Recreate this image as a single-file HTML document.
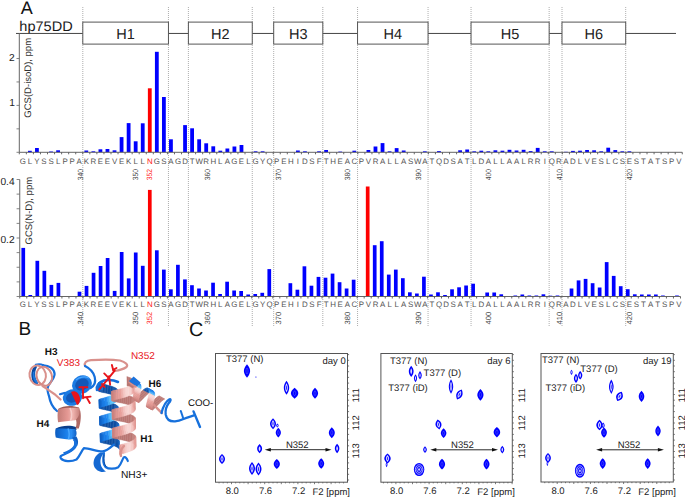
<!DOCTYPE html>
<html><head><meta charset="utf-8"><style>
html,body{margin:0;padding:0;background:#fff;}
svg{display:block;text-rendering:geometricPrecision;font-family:"Liberation Sans",sans-serif;}
</style></head><body>
<svg width="685" height="497" viewBox="0 0 685 497">
<rect width="685" height="497" fill="#fff"/>
<text x="20.7" y="14.1" font-family="Liberation Sans, sans-serif" font-size="18" fill="#111">A</text>
<text x="19.3" y="30.6" font-family="Liberation Sans, sans-serif" font-size="14" fill="#1a1a1a" textLength="53.4" lengthAdjust="spacingAndGlyphs">hp75DD</text>
<path d="M82.80 7V326M168.45 7V326M188.40 7V326M252.25 7V326M273.70 7V326M322.80 7V326M357.55 7V326M428.05 7V326M471.05 7V326M549.15 7V326M562.00 7V326M625.70 7V326" stroke="#999" stroke-width="0.8" stroke-dasharray="1 1" fill="none"/>
<line x1="16" y1="33.45" x2="676" y2="33.45" stroke="#444" stroke-width="1"/>
<rect x="82.80" y="22.1" width="85.65" height="22" fill="#fff" stroke="#555" stroke-width="1"/>
<text x="125.62" y="38.6" font-family="Liberation Sans, sans-serif" font-size="14.5" fill="#222" text-anchor="middle">H1</text>
<rect x="188.40" y="22.1" width="63.85" height="22" fill="#fff" stroke="#555" stroke-width="1"/>
<text x="220.32" y="38.6" font-family="Liberation Sans, sans-serif" font-size="14.5" fill="#222" text-anchor="middle">H2</text>
<rect x="273.70" y="22.1" width="49.10" height="22" fill="#fff" stroke="#555" stroke-width="1"/>
<text x="298.25" y="38.6" font-family="Liberation Sans, sans-serif" font-size="14.5" fill="#222" text-anchor="middle">H3</text>
<rect x="357.55" y="22.1" width="70.50" height="22" fill="#fff" stroke="#555" stroke-width="1"/>
<text x="392.80" y="38.6" font-family="Liberation Sans, sans-serif" font-size="14.5" fill="#222" text-anchor="middle">H4</text>
<rect x="471.05" y="22.1" width="78.10" height="22" fill="#fff" stroke="#555" stroke-width="1"/>
<text x="510.10" y="38.6" font-family="Liberation Sans, sans-serif" font-size="14.5" fill="#222" text-anchor="middle">H5</text>
<rect x="562.00" y="22.1" width="63.70" height="22" fill="#fff" stroke="#555" stroke-width="1"/>
<text x="593.85" y="38.6" font-family="Liberation Sans, sans-serif" font-size="14.5" fill="#222" text-anchor="middle">H6</text>
<rect x="27.98" y="150.80" width="3.8" height="1.50" fill="#0000ff"/>
<rect x="35.03" y="148.00" width="3.8" height="4.30" fill="#0000ff"/>
<rect x="49.14" y="151.50" width="3.8" height="0.80" fill="#0000ff"/>
<rect x="56.19" y="150.30" width="3.8" height="2.00" fill="#0000ff"/>
<rect x="84.40" y="150.50" width="3.8" height="1.80" fill="#0000ff"/>
<rect x="91.46" y="151.30" width="3.8" height="1.00" fill="#0000ff"/>
<rect x="98.51" y="149.30" width="3.8" height="3.00" fill="#0000ff"/>
<rect x="105.56" y="149.00" width="3.8" height="3.30" fill="#0000ff"/>
<rect x="112.62" y="150.30" width="3.8" height="2.00" fill="#0000ff"/>
<rect x="119.67" y="137.10" width="3.8" height="15.20" fill="#0000ff"/>
<rect x="126.72" y="123.10" width="3.8" height="29.20" fill="#0000ff"/>
<rect x="133.77" y="141.30" width="3.8" height="11.00" fill="#0000ff"/>
<rect x="140.83" y="123.30" width="3.8" height="29.00" fill="#0000ff"/>
<rect x="147.88" y="88.30" width="3.8" height="64.00" fill="#ff0000"/>
<rect x="154.93" y="51.80" width="3.8" height="100.50" fill="#0000ff"/>
<rect x="161.99" y="97.00" width="3.8" height="55.30" fill="#0000ff"/>
<rect x="169.04" y="139.30" width="3.8" height="13.00" fill="#0000ff"/>
<rect x="183.15" y="125.10" width="3.8" height="27.20" fill="#0000ff"/>
<rect x="190.20" y="128.30" width="3.8" height="24.00" fill="#0000ff"/>
<rect x="197.25" y="139.30" width="3.8" height="13.00" fill="#0000ff"/>
<rect x="204.30" y="143.30" width="3.8" height="9.00" fill="#0000ff"/>
<rect x="211.36" y="146.30" width="3.8" height="6.00" fill="#0000ff"/>
<rect x="218.41" y="150.70" width="3.8" height="1.60" fill="#0000ff"/>
<rect x="225.46" y="148.50" width="3.8" height="3.80" fill="#0000ff"/>
<rect x="232.52" y="146.50" width="3.8" height="5.80" fill="#0000ff"/>
<rect x="239.57" y="145.00" width="3.8" height="7.30" fill="#0000ff"/>
<rect x="253.68" y="151.30" width="3.8" height="1.00" fill="#0000ff"/>
<rect x="260.73" y="151.30" width="3.8" height="1.00" fill="#0000ff"/>
<rect x="295.99" y="150.50" width="3.8" height="1.80" fill="#0000ff"/>
<rect x="303.05" y="151.30" width="3.8" height="1.00" fill="#0000ff"/>
<rect x="317.15" y="151.30" width="3.8" height="1.00" fill="#0000ff"/>
<rect x="324.21" y="150.00" width="3.8" height="2.30" fill="#0000ff"/>
<rect x="338.31" y="151.60" width="3.8" height="0.70" fill="#0000ff"/>
<rect x="352.42" y="150.70" width="3.8" height="1.60" fill="#0000ff"/>
<rect x="366.52" y="150.00" width="3.8" height="2.30" fill="#0000ff"/>
<rect x="373.58" y="146.50" width="3.8" height="5.80" fill="#0000ff"/>
<rect x="380.63" y="143.10" width="3.8" height="9.20" fill="#0000ff"/>
<rect x="387.68" y="151.30" width="3.8" height="1.00" fill="#0000ff"/>
<rect x="394.74" y="148.10" width="3.8" height="4.20" fill="#0000ff"/>
<rect x="401.79" y="150.50" width="3.8" height="1.80" fill="#0000ff"/>
<rect x="422.95" y="151.30" width="3.8" height="1.00" fill="#0000ff"/>
<rect x="437.05" y="151.10" width="3.8" height="1.20" fill="#0000ff"/>
<rect x="458.21" y="150.30" width="3.8" height="2.00" fill="#0000ff"/>
<rect x="465.27" y="149.50" width="3.8" height="2.80" fill="#0000ff"/>
<rect x="472.32" y="151.30" width="3.8" height="1.00" fill="#0000ff"/>
<rect x="479.37" y="150.70" width="3.8" height="1.60" fill="#0000ff"/>
<rect x="486.42" y="151.30" width="3.8" height="1.00" fill="#0000ff"/>
<rect x="493.48" y="150.30" width="3.8" height="2.00" fill="#0000ff"/>
<rect x="500.53" y="150.70" width="3.8" height="1.60" fill="#0000ff"/>
<rect x="507.58" y="149.80" width="3.8" height="2.50" fill="#0000ff"/>
<rect x="514.64" y="150.50" width="3.8" height="1.80" fill="#0000ff"/>
<rect x="521.69" y="149.80" width="3.8" height="2.50" fill="#0000ff"/>
<rect x="528.74" y="151.10" width="3.8" height="1.20" fill="#0000ff"/>
<rect x="535.80" y="147.90" width="3.8" height="4.40" fill="#0000ff"/>
<rect x="542.85" y="151.30" width="3.8" height="1.00" fill="#0000ff"/>
<rect x="549.90" y="151.30" width="3.8" height="1.00" fill="#0000ff"/>
<rect x="564.01" y="151.80" width="3.8" height="0.50" fill="#0000ff"/>
<rect x="571.06" y="150.90" width="3.8" height="1.40" fill="#0000ff"/>
<rect x="578.11" y="150.70" width="3.8" height="1.60" fill="#0000ff"/>
<rect x="585.17" y="150.00" width="3.8" height="2.30" fill="#0000ff"/>
<rect x="592.22" y="150.30" width="3.8" height="2.00" fill="#0000ff"/>
<rect x="599.27" y="151.30" width="3.8" height="1.00" fill="#0000ff"/>
<rect x="606.33" y="147.70" width="3.8" height="4.60" fill="#0000ff"/>
<rect x="613.38" y="150.10" width="3.8" height="2.20" fill="#0000ff"/>
<rect x="620.43" y="151.30" width="3.8" height="1.00" fill="#0000ff"/>
<rect x="627.48" y="151.30" width="3.8" height="1.00" fill="#0000ff"/>
<line x1="19.3" y1="152.3" x2="682.28" y2="152.3" stroke="#666" stroke-width="1"/>
<path d="M19.30 152.3v2M26.35 152.3v2M33.41 152.3v2M40.46 152.3v2M47.51 152.3v2M54.56 152.3v2M61.62 152.3v2M68.67 152.3v2M75.72 152.3v2M82.78 152.3v2M89.83 152.3v2M96.88 152.3v2M103.94 152.3v2M110.99 152.3v2M118.04 152.3v2M125.09 152.3v2M132.15 152.3v2M139.20 152.3v2M146.25 152.3v2M153.31 152.3v2M160.36 152.3v2M167.41 152.3v2M174.47 152.3v2M181.52 152.3v2M188.57 152.3v2M195.62 152.3v2M202.68 152.3v2M209.73 152.3v2M216.78 152.3v2M223.84 152.3v2M230.89 152.3v2M237.94 152.3v2M245.00 152.3v2M252.05 152.3v2M259.10 152.3v2M266.15 152.3v2M273.21 152.3v2M280.26 152.3v2M287.31 152.3v2M294.37 152.3v2M301.42 152.3v2M308.47 152.3v2M315.53 152.3v2M322.58 152.3v2M329.63 152.3v2M336.69 152.3v2M343.74 152.3v2M350.79 152.3v2M357.84 152.3v2M364.90 152.3v2M371.95 152.3v2M379.00 152.3v2M386.06 152.3v2M393.11 152.3v2M400.16 152.3v2M407.22 152.3v2M414.27 152.3v2M421.32 152.3v2M428.37 152.3v2M435.43 152.3v2M442.48 152.3v2M449.53 152.3v2M456.59 152.3v2M463.64 152.3v2M470.69 152.3v2M477.75 152.3v2M484.80 152.3v2M491.85 152.3v2M498.90 152.3v2M505.96 152.3v2M513.01 152.3v2M520.06 152.3v2M527.12 152.3v2M534.17 152.3v2M541.22 152.3v2M548.27 152.3v2M555.33 152.3v2M562.38 152.3v2M569.43 152.3v2M576.49 152.3v2M583.54 152.3v2M590.59 152.3v2M597.65 152.3v2M604.70 152.3v2M611.75 152.3v2M618.80 152.3v2M625.86 152.3v2M632.91 152.3v2M639.96 152.3v2M647.02 152.3v2M654.07 152.3v2M661.12 152.3v2M668.18 152.3v2M675.23 152.3v2M682.28 152.3v2" stroke="#555" stroke-width="0.9" fill="none"/>
<line x1="19.3" y1="33.3" x2="19.3" y2="152.3" stroke="#666" stroke-width="1"/>
<path d="M16.5 152.30H19.3M16.5 128.85H19.3M16.5 105.40H19.3M16.5 81.95H19.3M16.5 58.50H19.3" stroke="#666" stroke-width="0.8"/>
<g font-family="Liberation Sans, sans-serif" font-size="10.2" fill="#222" text-anchor="end"><text x="14.7" y="60.6">2</text><text x="14.8" y="106.4">1</text></g>
<text transform="translate(30.6,77.8) rotate(-90)" font-family="Liberation Sans, sans-serif" font-size="9.5" fill="#333" text-anchor="middle">GCS(D-isoD), ppm</text>
<g font-family="Liberation Sans, sans-serif" font-size="7.9" fill="#555" text-anchor="middle">
<text x="22.83" y="164.0">G</text>
<text x="29.88" y="164.0">L</text>
<text x="36.93" y="164.0">Y</text>
<text x="43.99" y="164.0">S</text>
<text x="51.04" y="164.0">S</text>
<text x="58.09" y="164.0">L</text>
<text x="65.14" y="164.0">P</text>
<text x="72.20" y="164.0">P</text>
<text x="79.25" y="164.0">A</text>
<text x="86.30" y="164.0">K</text>
<text x="93.36" y="164.0">R</text>
<text x="100.41" y="164.0">E</text>
<text x="107.46" y="164.0">E</text>
<text x="114.52" y="164.0">V</text>
<text x="121.57" y="164.0">E</text>
<text x="128.62" y="164.0">K</text>
<text x="135.67" y="164.0">L</text>
<text x="142.73" y="164.0">L</text>
<text x="149.78" y="164.0" fill="#ff2020">N</text>
<text x="156.83" y="164.0">G</text>
<text x="163.89" y="164.0">S</text>
<text x="170.94" y="164.0">A</text>
<text x="177.99" y="164.0">G</text>
<text x="185.05" y="164.0">D</text>
<text x="192.10" y="164.0">T</text>
<text x="199.15" y="164.0">W</text>
<text x="206.20" y="164.0">R</text>
<text x="213.26" y="164.0">H</text>
<text x="220.31" y="164.0">L</text>
<text x="227.36" y="164.0">A</text>
<text x="234.42" y="164.0">G</text>
<text x="241.47" y="164.0">E</text>
<text x="248.52" y="164.0">L</text>
<text x="255.58" y="164.0">G</text>
<text x="262.63" y="164.0">Y</text>
<text x="269.68" y="164.0">Q</text>
<text x="276.73" y="164.0">P</text>
<text x="283.79" y="164.0">E</text>
<text x="290.84" y="164.0">H</text>
<text x="297.89" y="164.0">I</text>
<text x="304.95" y="164.0">D</text>
<text x="312.00" y="164.0">S</text>
<text x="319.05" y="164.0">F</text>
<text x="326.11" y="164.0">T</text>
<text x="333.16" y="164.0">H</text>
<text x="340.21" y="164.0">E</text>
<text x="347.26" y="164.0">A</text>
<text x="354.32" y="164.0">C</text>
<text x="361.37" y="164.0">P</text>
<text x="368.42" y="164.0">V</text>
<text x="375.48" y="164.0">R</text>
<text x="382.53" y="164.0">A</text>
<text x="389.58" y="164.0">L</text>
<text x="396.64" y="164.0">L</text>
<text x="403.69" y="164.0">A</text>
<text x="410.74" y="164.0">S</text>
<text x="417.79" y="164.0">W</text>
<text x="424.85" y="164.0">A</text>
<text x="431.90" y="164.0">T</text>
<text x="438.95" y="164.0">Q</text>
<text x="446.01" y="164.0">D</text>
<text x="453.06" y="164.0">S</text>
<text x="460.11" y="164.0">A</text>
<text x="467.17" y="164.0">T</text>
<text x="474.22" y="164.0">L</text>
<text x="481.27" y="164.0">D</text>
<text x="488.32" y="164.0">A</text>
<text x="495.38" y="164.0">L</text>
<text x="502.43" y="164.0">L</text>
<text x="509.48" y="164.0">A</text>
<text x="516.54" y="164.0">A</text>
<text x="523.59" y="164.0">L</text>
<text x="530.64" y="164.0">R</text>
<text x="537.70" y="164.0">R</text>
<text x="544.75" y="164.0">I</text>
<text x="551.80" y="164.0">Q</text>
<text x="558.85" y="164.0">R</text>
<text x="565.91" y="164.0">A</text>
<text x="572.96" y="164.0">D</text>
<text x="580.01" y="164.0">L</text>
<text x="587.07" y="164.0">V</text>
<text x="594.12" y="164.0">E</text>
<text x="601.17" y="164.0">S</text>
<text x="608.23" y="164.0">L</text>
<text x="615.28" y="164.0">C</text>
<text x="622.33" y="164.0">S</text>
<text x="629.38" y="164.0">E</text>
<text x="636.44" y="164.0">S</text>
<text x="643.49" y="164.0">T</text>
<text x="650.54" y="164.0">A</text>
<text x="657.60" y="164.0">T</text>
<text x="664.65" y="164.0">S</text>
<text x="671.70" y="164.0">P</text>
<text x="678.76" y="164.0">V</text>
</g>
<g font-family="Liberation Sans, sans-serif" font-size="7.5" fill="#444" text-anchor="middle">
<text transform="translate(82.60,174.7) rotate(-90)" x="-5.60" y="0" text-anchor="start" textLength="11.2" lengthAdjust="spacingAndGlyphs">340</text>
<text transform="translate(138.30,174.7) rotate(-90)" x="-5.60" y="0" text-anchor="start" textLength="11.2" lengthAdjust="spacingAndGlyphs">350</text>
<text transform="translate(152.30,174.7) rotate(-90)" x="-5.60" y="0" text-anchor="start" textLength="11.2" lengthAdjust="spacingAndGlyphs" fill="#ff2020">352</text>
<text transform="translate(209.70,174.7) rotate(-90)" x="-5.60" y="0" text-anchor="start" textLength="11.2" lengthAdjust="spacingAndGlyphs">360</text>
<text transform="translate(281.20,174.7) rotate(-90)" x="-5.60" y="0" text-anchor="start" textLength="11.2" lengthAdjust="spacingAndGlyphs">370</text>
<text transform="translate(349.90,174.7) rotate(-90)" x="-5.60" y="0" text-anchor="start" textLength="11.2" lengthAdjust="spacingAndGlyphs">380</text>
<text transform="translate(420.60,174.7) rotate(-90)" x="-5.60" y="0" text-anchor="start" textLength="11.2" lengthAdjust="spacingAndGlyphs">390</text>
<text transform="translate(491.00,174.7) rotate(-90)" x="-5.60" y="0" text-anchor="start" textLength="11.2" lengthAdjust="spacingAndGlyphs">400</text>
<text transform="translate(561.60,174.7) rotate(-90)" x="-5.60" y="0" text-anchor="start" textLength="11.2" lengthAdjust="spacingAndGlyphs">410</text>
<text transform="translate(631.60,174.7) rotate(-90)" x="-5.60" y="0" text-anchor="start" textLength="11.2" lengthAdjust="spacingAndGlyphs">420</text>
</g>
<rect x="21.41" y="247.90" width="3.7" height="48.60" fill="#0000ff"/>
<rect x="28.44" y="295.00" width="3.7" height="1.50" fill="#0000ff"/>
<rect x="35.47" y="260.80" width="3.7" height="35.70" fill="#0000ff"/>
<rect x="42.50" y="270.80" width="3.7" height="25.70" fill="#0000ff"/>
<rect x="49.53" y="284.90" width="3.7" height="11.60" fill="#0000ff"/>
<rect x="56.56" y="282.90" width="3.7" height="13.60" fill="#0000ff"/>
<rect x="77.65" y="291.70" width="3.7" height="4.80" fill="#0000ff"/>
<rect x="84.68" y="285.90" width="3.7" height="10.60" fill="#0000ff"/>
<rect x="91.70" y="272.80" width="3.7" height="23.70" fill="#0000ff"/>
<rect x="98.73" y="266.00" width="3.7" height="30.50" fill="#0000ff"/>
<rect x="105.76" y="258.00" width="3.7" height="38.50" fill="#0000ff"/>
<rect x="112.79" y="290.90" width="3.7" height="5.60" fill="#0000ff"/>
<rect x="119.82" y="252.00" width="3.7" height="44.50" fill="#0000ff"/>
<rect x="126.85" y="278.40" width="3.7" height="18.10" fill="#0000ff"/>
<rect x="133.88" y="252.50" width="3.7" height="44.00" fill="#0000ff"/>
<rect x="140.91" y="265.80" width="3.7" height="30.70" fill="#0000ff"/>
<rect x="147.94" y="189.90" width="3.7" height="106.60" fill="#ff0000"/>
<rect x="154.97" y="250.30" width="3.7" height="46.20" fill="#0000ff"/>
<rect x="161.99" y="269.60" width="3.7" height="26.90" fill="#0000ff"/>
<rect x="169.02" y="289.30" width="3.7" height="7.20" fill="#0000ff"/>
<rect x="176.05" y="264.80" width="3.7" height="31.70" fill="#0000ff"/>
<rect x="183.08" y="279.40" width="3.7" height="17.10" fill="#0000ff"/>
<rect x="190.11" y="285.20" width="3.7" height="11.30" fill="#0000ff"/>
<rect x="197.14" y="288.50" width="3.7" height="8.00" fill="#0000ff"/>
<rect x="204.17" y="290.50" width="3.7" height="6.00" fill="#0000ff"/>
<rect x="211.20" y="282.70" width="3.7" height="13.80" fill="#0000ff"/>
<rect x="218.23" y="294.00" width="3.7" height="2.50" fill="#0000ff"/>
<rect x="225.26" y="281.70" width="3.7" height="14.80" fill="#0000ff"/>
<rect x="232.28" y="290.50" width="3.7" height="6.00" fill="#0000ff"/>
<rect x="239.31" y="291.00" width="3.7" height="5.50" fill="#0000ff"/>
<rect x="246.34" y="294.50" width="3.7" height="2.00" fill="#0000ff"/>
<rect x="253.37" y="294.00" width="3.7" height="2.50" fill="#0000ff"/>
<rect x="260.40" y="292.80" width="3.7" height="3.70" fill="#0000ff"/>
<rect x="267.43" y="269.10" width="3.7" height="27.40" fill="#0000ff"/>
<rect x="281.49" y="296.00" width="3.7" height="0.50" fill="#0000ff"/>
<rect x="288.52" y="283.20" width="3.7" height="13.30" fill="#0000ff"/>
<rect x="295.55" y="289.70" width="3.7" height="6.80" fill="#0000ff"/>
<rect x="302.57" y="266.30" width="3.7" height="30.20" fill="#0000ff"/>
<rect x="309.60" y="285.70" width="3.7" height="10.80" fill="#0000ff"/>
<rect x="316.63" y="276.90" width="3.7" height="19.60" fill="#0000ff"/>
<rect x="323.66" y="277.70" width="3.7" height="18.80" fill="#0000ff"/>
<rect x="330.69" y="273.60" width="3.7" height="22.90" fill="#0000ff"/>
<rect x="337.72" y="282.20" width="3.7" height="14.30" fill="#0000ff"/>
<rect x="344.75" y="288.50" width="3.7" height="8.00" fill="#0000ff"/>
<rect x="351.78" y="279.70" width="3.7" height="16.80" fill="#0000ff"/>
<rect x="365.84" y="186.50" width="3.7" height="110.00" fill="#ff0000"/>
<rect x="372.86" y="245.20" width="3.7" height="51.30" fill="#0000ff"/>
<rect x="379.89" y="241.20" width="3.7" height="55.30" fill="#0000ff"/>
<rect x="386.92" y="274.60" width="3.7" height="21.90" fill="#0000ff"/>
<rect x="393.95" y="269.60" width="3.7" height="26.90" fill="#0000ff"/>
<rect x="400.98" y="278.20" width="3.7" height="18.30" fill="#0000ff"/>
<rect x="408.01" y="292.30" width="3.7" height="4.20" fill="#0000ff"/>
<rect x="415.04" y="293.50" width="3.7" height="3.00" fill="#0000ff"/>
<rect x="422.07" y="276.70" width="3.7" height="19.80" fill="#0000ff"/>
<rect x="429.10" y="294.50" width="3.7" height="2.00" fill="#0000ff"/>
<rect x="436.13" y="292.30" width="3.7" height="4.20" fill="#0000ff"/>
<rect x="443.15" y="295.00" width="3.7" height="1.50" fill="#0000ff"/>
<rect x="450.18" y="289.30" width="3.7" height="7.20" fill="#0000ff"/>
<rect x="457.21" y="287.30" width="3.7" height="9.20" fill="#0000ff"/>
<rect x="464.24" y="285.50" width="3.7" height="11.00" fill="#0000ff"/>
<rect x="471.27" y="283.70" width="3.7" height="12.80" fill="#0000ff"/>
<rect x="485.33" y="292.50" width="3.7" height="4.00" fill="#0000ff"/>
<rect x="492.36" y="292.50" width="3.7" height="4.00" fill="#0000ff"/>
<rect x="499.39" y="294.30" width="3.7" height="2.20" fill="#0000ff"/>
<rect x="506.42" y="296.00" width="3.7" height="0.50" fill="#0000ff"/>
<rect x="513.44" y="295.50" width="3.7" height="1.00" fill="#0000ff"/>
<rect x="520.47" y="294.50" width="3.7" height="2.00" fill="#0000ff"/>
<rect x="527.50" y="295.50" width="3.7" height="1.00" fill="#0000ff"/>
<rect x="534.53" y="295.50" width="3.7" height="1.00" fill="#0000ff"/>
<rect x="541.56" y="294.30" width="3.7" height="2.20" fill="#0000ff"/>
<rect x="548.59" y="295.70" width="3.7" height="0.80" fill="#0000ff"/>
<rect x="555.62" y="295.50" width="3.7" height="1.00" fill="#0000ff"/>
<rect x="562.65" y="296.00" width="3.7" height="0.50" fill="#0000ff"/>
<rect x="569.68" y="288.50" width="3.7" height="8.00" fill="#0000ff"/>
<rect x="576.71" y="280.40" width="3.7" height="16.10" fill="#0000ff"/>
<rect x="583.73" y="278.90" width="3.7" height="17.60" fill="#0000ff"/>
<rect x="590.76" y="283.20" width="3.7" height="13.30" fill="#0000ff"/>
<rect x="597.79" y="287.50" width="3.7" height="9.00" fill="#0000ff"/>
<rect x="604.82" y="262.10" width="3.7" height="34.40" fill="#0000ff"/>
<rect x="611.85" y="275.90" width="3.7" height="20.60" fill="#0000ff"/>
<rect x="618.88" y="286.20" width="3.7" height="10.30" fill="#0000ff"/>
<rect x="625.91" y="289.20" width="3.7" height="7.30" fill="#0000ff"/>
<rect x="632.94" y="294.30" width="3.7" height="2.20" fill="#0000ff"/>
<rect x="639.97" y="294.50" width="3.7" height="2.00" fill="#0000ff"/>
<rect x="647.00" y="294.50" width="3.7" height="2.00" fill="#0000ff"/>
<rect x="654.02" y="294.50" width="3.7" height="2.00" fill="#0000ff"/>
<rect x="661.05" y="295.50" width="3.7" height="1.00" fill="#0000ff"/>
<rect x="675.11" y="295.50" width="3.7" height="1.00" fill="#0000ff"/>
<line x1="19.75" y1="296.5" x2="680.48" y2="296.5" stroke="#666" stroke-width="1"/>
<path d="M19.75 296.5v2M26.78 296.5v2M33.81 296.5v2M40.84 296.5v2M47.87 296.5v2M54.89 296.5v2M61.92 296.5v2M68.95 296.5v2M75.98 296.5v2M83.01 296.5v2M90.04 296.5v2M97.07 296.5v2M104.10 296.5v2M111.13 296.5v2M118.16 296.5v2M125.19 296.5v2M132.21 296.5v2M139.24 296.5v2M146.27 296.5v2M153.30 296.5v2M160.33 296.5v2M167.36 296.5v2M174.39 296.5v2M181.42 296.5v2M188.45 296.5v2M195.47 296.5v2M202.50 296.5v2M209.53 296.5v2M216.56 296.5v2M223.59 296.5v2M230.62 296.5v2M237.65 296.5v2M244.68 296.5v2M251.71 296.5v2M258.74 296.5v2M265.76 296.5v2M272.79 296.5v2M279.82 296.5v2M286.85 296.5v2M293.88 296.5v2M300.91 296.5v2M307.94 296.5v2M314.97 296.5v2M322.00 296.5v2M329.03 296.5v2M336.06 296.5v2M343.08 296.5v2M350.11 296.5v2M357.14 296.5v2M364.17 296.5v2M371.20 296.5v2M378.23 296.5v2M385.26 296.5v2M392.29 296.5v2M399.32 296.5v2M406.34 296.5v2M413.37 296.5v2M420.40 296.5v2M427.43 296.5v2M434.46 296.5v2M441.49 296.5v2M448.52 296.5v2M455.55 296.5v2M462.58 296.5v2M469.61 296.5v2M476.63 296.5v2M483.66 296.5v2M490.69 296.5v2M497.72 296.5v2M504.75 296.5v2M511.78 296.5v2M518.81 296.5v2M525.84 296.5v2M532.87 296.5v2M539.90 296.5v2M546.92 296.5v2M553.95 296.5v2M560.98 296.5v2M568.01 296.5v2M575.04 296.5v2M582.07 296.5v2M589.10 296.5v2M596.13 296.5v2M603.16 296.5v2M610.19 296.5v2M617.22 296.5v2M624.24 296.5v2M631.27 296.5v2M638.30 296.5v2M645.33 296.5v2M652.36 296.5v2M659.39 296.5v2M666.42 296.5v2M673.45 296.5v2M680.48 296.5v2" stroke="#555" stroke-width="0.9" fill="none"/>
<line x1="19.75" y1="179.5" x2="19.75" y2="296.5" stroke="#666" stroke-width="1"/>
<path d="M16.6 296.50H19.75M16.6 281.88H19.75M16.6 267.25H19.75M16.6 252.62H19.75M16.6 238.00H19.75M16.6 223.38H19.75M16.6 208.75H19.75M16.6 194.12H19.75M16.6 179.50H19.75" stroke="#666" stroke-width="0.8"/>
<g font-family="Liberation Sans, sans-serif" font-size="10.2" fill="#222" text-anchor="end"><text x="14.6" y="185.2">0.4</text><text x="14.6" y="242.5">0.2</text></g>
<text transform="translate(32.0,210.7) rotate(-90)" font-family="Liberation Sans, sans-serif" font-size="9.5" fill="#333" text-anchor="middle">GCS(N-D), ppm</text>
<g font-family="Liberation Sans, sans-serif" font-size="7.9" fill="#555" text-anchor="middle">
<text x="22.83" y="306.8">G</text>
<text x="29.88" y="306.8">L</text>
<text x="36.93" y="306.8">Y</text>
<text x="43.99" y="306.8">S</text>
<text x="51.04" y="306.8">S</text>
<text x="58.09" y="306.8">L</text>
<text x="65.14" y="306.8">P</text>
<text x="72.20" y="306.8">P</text>
<text x="79.25" y="306.8">A</text>
<text x="86.30" y="306.8">K</text>
<text x="93.36" y="306.8">R</text>
<text x="100.41" y="306.8">E</text>
<text x="107.46" y="306.8">E</text>
<text x="114.52" y="306.8">V</text>
<text x="121.57" y="306.8">E</text>
<text x="128.62" y="306.8">K</text>
<text x="135.67" y="306.8">L</text>
<text x="142.73" y="306.8">L</text>
<text x="149.78" y="306.8" fill="#ff2020">N</text>
<text x="156.83" y="306.8">G</text>
<text x="163.89" y="306.8">S</text>
<text x="170.94" y="306.8">A</text>
<text x="177.99" y="306.8">G</text>
<text x="185.05" y="306.8">D</text>
<text x="192.10" y="306.8">T</text>
<text x="199.15" y="306.8">W</text>
<text x="206.20" y="306.8">R</text>
<text x="213.26" y="306.8">H</text>
<text x="220.31" y="306.8">L</text>
<text x="227.36" y="306.8">A</text>
<text x="234.42" y="306.8">G</text>
<text x="241.47" y="306.8">E</text>
<text x="248.52" y="306.8">L</text>
<text x="255.58" y="306.8">G</text>
<text x="262.63" y="306.8">Y</text>
<text x="269.68" y="306.8">Q</text>
<text x="276.73" y="306.8">P</text>
<text x="283.79" y="306.8">E</text>
<text x="290.84" y="306.8">H</text>
<text x="297.89" y="306.8">I</text>
<text x="304.95" y="306.8">D</text>
<text x="312.00" y="306.8">S</text>
<text x="319.05" y="306.8">F</text>
<text x="326.11" y="306.8">T</text>
<text x="333.16" y="306.8">H</text>
<text x="340.21" y="306.8">E</text>
<text x="347.26" y="306.8">A</text>
<text x="354.32" y="306.8">C</text>
<text x="361.37" y="306.8">P</text>
<text x="368.42" y="306.8">V</text>
<text x="375.48" y="306.8">R</text>
<text x="382.53" y="306.8">A</text>
<text x="389.58" y="306.8">L</text>
<text x="396.64" y="306.8">L</text>
<text x="403.69" y="306.8">A</text>
<text x="410.74" y="306.8">S</text>
<text x="417.79" y="306.8">W</text>
<text x="424.85" y="306.8">A</text>
<text x="431.90" y="306.8">T</text>
<text x="438.95" y="306.8">Q</text>
<text x="446.01" y="306.8">D</text>
<text x="453.06" y="306.8">S</text>
<text x="460.11" y="306.8">A</text>
<text x="467.17" y="306.8">T</text>
<text x="474.22" y="306.8">L</text>
<text x="481.27" y="306.8">D</text>
<text x="488.32" y="306.8">A</text>
<text x="495.38" y="306.8">L</text>
<text x="502.43" y="306.8">L</text>
<text x="509.48" y="306.8">A</text>
<text x="516.54" y="306.8">A</text>
<text x="523.59" y="306.8">L</text>
<text x="530.64" y="306.8">R</text>
<text x="537.70" y="306.8">R</text>
<text x="544.75" y="306.8">I</text>
<text x="551.80" y="306.8">Q</text>
<text x="558.85" y="306.8">R</text>
<text x="565.91" y="306.8">A</text>
<text x="572.96" y="306.8">D</text>
<text x="580.01" y="306.8">L</text>
<text x="587.07" y="306.8">V</text>
<text x="594.12" y="306.8">E</text>
<text x="601.17" y="306.8">S</text>
<text x="608.23" y="306.8">L</text>
<text x="615.28" y="306.8">C</text>
<text x="622.33" y="306.8">S</text>
<text x="629.38" y="306.8">E</text>
<text x="636.44" y="306.8">S</text>
<text x="643.49" y="306.8">T</text>
<text x="650.54" y="306.8">A</text>
<text x="657.60" y="306.8">T</text>
<text x="664.65" y="306.8">S</text>
<text x="671.70" y="306.8">P</text>
<text x="678.76" y="306.8">V</text>
</g>
<g font-family="Liberation Sans, sans-serif" font-size="7.5" fill="#444" text-anchor="middle">
<text transform="translate(82.60,318.1) rotate(-90)" x="-6.30" y="0" text-anchor="start" textLength="12.6" lengthAdjust="spacingAndGlyphs">340</text>
<text transform="translate(138.30,318.1) rotate(-90)" x="-6.30" y="0" text-anchor="start" textLength="12.6" lengthAdjust="spacingAndGlyphs">350</text>
<text transform="translate(152.30,318.1) rotate(-90)" x="-6.30" y="0" text-anchor="start" textLength="12.6" lengthAdjust="spacingAndGlyphs" fill="#ff2020">352</text>
<text transform="translate(209.70,318.1) rotate(-90)" x="-6.30" y="0" text-anchor="start" textLength="12.6" lengthAdjust="spacingAndGlyphs">360</text>
<text transform="translate(281.20,318.1) rotate(-90)" x="-6.30" y="0" text-anchor="start" textLength="12.6" lengthAdjust="spacingAndGlyphs">370</text>
<text transform="translate(349.90,318.1) rotate(-90)" x="-6.30" y="0" text-anchor="start" textLength="12.6" lengthAdjust="spacingAndGlyphs">380</text>
<text transform="translate(420.60,318.1) rotate(-90)" x="-6.30" y="0" text-anchor="start" textLength="12.6" lengthAdjust="spacingAndGlyphs">390</text>
<text transform="translate(491.00,318.1) rotate(-90)" x="-6.30" y="0" text-anchor="start" textLength="12.6" lengthAdjust="spacingAndGlyphs">400</text>
<text transform="translate(561.60,318.1) rotate(-90)" x="-6.30" y="0" text-anchor="start" textLength="12.6" lengthAdjust="spacingAndGlyphs">410</text>
<text transform="translate(631.60,318.1) rotate(-90)" x="-6.30" y="0" text-anchor="start" textLength="12.6" lengthAdjust="spacingAndGlyphs">420</text>
</g>
<text x="18.6" y="334.9" font-family="Liberation Sans, sans-serif" font-size="19" fill="#111">B</text>
<path d="M42.6 365.3C49 365 54.5 369 54.6 374C54.5 379 50 382 48.2 386C46.5 390 48 393 49 396C50 402 52 407 57 411" fill="none" stroke="#1670dc" stroke-width="2.2" stroke-linecap="round" stroke-linejoin="round"/>
<path d="M36 365C31 368 30 376 33 382C35 385 38 385 38 383C35 379 34 372 37 367Z" fill="#0b4aa0"/>
<path d="M33 372C32 377 34 382 37 384L38 382C35 379 34 375 34.5 371Z" fill="#1a78e0"/>
<path d="M35.6 364.6C38 364 41 364 43.3 365" fill="none" stroke="#1670dc" stroke-width="1.8" stroke-linecap="round" stroke-linejoin="round"/>
<ellipse cx="37.7" cy="375.2" rx="8.2" ry="9.8" fill="none" stroke="#d9918c" stroke-width="2" transform="rotate(-12 37.7 375.2)"/>
<ellipse cx="44.3" cy="376.3" rx="7.6" ry="9.6" fill="none" stroke="#d58a85" stroke-width="2" transform="rotate(-18 44.3 376.3)"/>
<path d="M42.6 386C47 389 51 392 55 394.5L60.5 399.5" fill="none" stroke="#d9918c" stroke-width="2.2" stroke-linecap="round" stroke-linejoin="round"/>
<path d="M98.49 382.78L98.77 383.00L99.04 391.50L98.76 391.28Z" fill="#0e5ec0" stroke="#0e5ec0" stroke-width="0.4"/><path d="M98.77 383.00L99.33 383.22L99.61 391.72L99.04 391.50Z" fill="#0e59b7" stroke="#0e59b7" stroke-width="0.4"/><path d="M99.33 383.22L100.16 383.45L100.44 391.95L99.61 391.72Z" fill="#0d55af" stroke="#0d55af" stroke-width="0.4"/><path d="M100.16 383.45L101.23 383.70L101.50 392.20L100.44 391.95Z" fill="#0d51a8" stroke="#0d51a8" stroke-width="0.4"/><path d="M101.23 383.70L102.50 383.97L102.78 392.47L101.50 392.20Z" fill="#0c4ea2" stroke="#0c4ea2" stroke-width="0.4"/><path d="M102.50 383.97L103.95 384.27L104.22 392.77L102.78 392.47Z" fill="#0c4c9e" stroke="#0c4c9e" stroke-width="0.4"/><path d="M103.95 384.27L105.52 384.61L105.79 393.11L104.22 392.77Z" fill="#0c4c9e" stroke="#0c4c9e" stroke-width="0.4"/><path d="M105.52 384.61L107.16 384.99L107.44 393.48L105.79 393.11Z" fill="#0c4c9e" stroke="#0c4c9e" stroke-width="0.4"/><path d="M107.16 384.99L108.84 385.41L109.11 393.90L107.44 393.48Z" fill="#0c4c9e" stroke="#0c4c9e" stroke-width="0.4"/><path d="M108.84 385.41L110.49 385.87L110.77 394.37L109.11 393.90Z" fill="#0c4c9e" stroke="#0c4c9e" stroke-width="0.4"/><path d="M110.49 385.87L112.07 386.38L112.34 394.87L110.77 394.37Z" fill="#0c4c9e" stroke="#0c4c9e" stroke-width="0.4"/><path d="M112.07 386.38L113.53 386.93L113.80 395.42L112.34 394.87Z" fill="#0c4c9e" stroke="#0c4c9e" stroke-width="0.4"/><path d="M113.53 386.93L114.82 387.52L115.10 396.02L113.80 395.42Z" fill="#0c4ea1" stroke="#0c4ea1" stroke-width="0.4"/><path d="M114.82 387.52L115.91 388.15L116.19 396.64L115.10 396.02Z" fill="#0d51a8" stroke="#0d51a8" stroke-width="0.4"/><path d="M115.91 388.15L116.77 388.81L117.04 397.31L116.19 396.64Z" fill="#0d55af" stroke="#0d55af" stroke-width="0.4"/><path d="M116.77 388.81L117.36 389.50L117.63 398.00L117.04 397.31Z" fill="#0e59b7" stroke="#0e59b7" stroke-width="0.4"/><path d="M117.36 389.50L117.67 390.21L117.94 398.70L117.63 398.00Z" fill="#0e5dbf" stroke="#0e5dbf" stroke-width="0.4"/><path d="M99.03 399.57L99.05 399.80L99.32 408.29L99.30 408.07Z" fill="#0f62c8" stroke="#0f62c8" stroke-width="0.4"/><path d="M99.05 399.80L99.36 400.02L99.63 408.51L99.32 408.29Z" fill="#0e5dbf" stroke="#0e5dbf" stroke-width="0.4"/><path d="M99.36 400.02L99.95 400.24L100.23 408.73L99.63 408.51Z" fill="#0e59b6" stroke="#0e59b6" stroke-width="0.4"/><path d="M99.95 400.24L100.80 400.47L101.08 408.96L100.23 408.73Z" fill="#0d55ae" stroke="#0d55ae" stroke-width="0.4"/><path d="M100.80 400.47L101.89 400.72L102.17 409.21L101.08 408.96Z" fill="#0d51a7" stroke="#0d51a7" stroke-width="0.4"/><path d="M101.89 400.72L103.19 400.99L103.46 409.49L102.17 409.21Z" fill="#0c4ea1" stroke="#0c4ea1" stroke-width="0.4"/><path d="M103.19 400.99L104.65 401.30L104.92 409.79L103.46 409.49Z" fill="#0c4c9e" stroke="#0c4c9e" stroke-width="0.4"/><path d="M104.65 401.30L106.23 401.64L106.50 410.13L104.92 409.79Z" fill="#0c4c9e" stroke="#0c4c9e" stroke-width="0.4"/><path d="M106.23 401.64L107.88 402.02L108.15 410.51L106.50 410.13Z" fill="#0c4c9e" stroke="#0c4c9e" stroke-width="0.4"/><path d="M107.88 402.02L109.55 402.44L109.83 410.94L108.15 410.51Z" fill="#0c4c9e" stroke="#0c4c9e" stroke-width="0.4"/><path d="M109.55 402.44L111.20 402.91L111.47 411.40L109.83 410.94Z" fill="#0c4c9e" stroke="#0c4c9e" stroke-width="0.4"/><path d="M111.20 402.91L112.77 403.42L113.04 411.92L111.47 411.40Z" fill="#0c4c9e" stroke="#0c4c9e" stroke-width="0.4"/><path d="M112.77 403.42L114.21 403.98L114.49 412.47L113.04 411.92Z" fill="#0c4c9e" stroke="#0c4c9e" stroke-width="0.4"/><path d="M114.21 403.98L115.49 404.57L115.76 413.07L114.49 412.47Z" fill="#0c4ea2" stroke="#0c4ea2" stroke-width="0.4"/><path d="M115.49 404.57L116.56 405.20L116.83 413.70L115.76 413.07Z" fill="#0d51a8" stroke="#0d51a8" stroke-width="0.4"/><path d="M116.56 405.20L117.39 405.87L117.66 414.36L116.83 413.70Z" fill="#0d55b0" stroke="#0d55b0" stroke-width="0.4"/><path d="M117.39 405.87L117.95 406.56L118.22 415.06L117.66 414.36Z" fill="#0e59b8" stroke="#0e59b8" stroke-width="0.4"/><path d="M117.95 406.56L118.23 407.27L118.51 415.77L118.22 415.06Z" fill="#0e5ec0" stroke="#0e5ec0" stroke-width="0.4"/><path d="M99.56 416.59L99.62 416.81L99.89 425.31L99.84 425.08Z" fill="#0f61c7" stroke="#0f61c7" stroke-width="0.4"/><path d="M99.62 416.81L99.95 417.03L100.23 425.52L99.89 425.31Z" fill="#0e5dbe" stroke="#0e5dbe" stroke-width="0.4"/><path d="M99.95 417.03L100.57 417.25L100.85 425.75L100.23 425.52Z" fill="#0e58b6" stroke="#0e58b6" stroke-width="0.4"/><path d="M100.57 417.25L101.45 417.48L101.73 425.98L100.85 425.75Z" fill="#0d54ae" stroke="#0d54ae" stroke-width="0.4"/><path d="M101.45 417.48L102.56 417.74L102.84 426.23L101.73 425.98Z" fill="#0d51a7" stroke="#0d51a7" stroke-width="0.4"/><path d="M102.56 417.74L103.88 418.01L104.15 426.51L102.84 426.23Z" fill="#0c4da1" stroke="#0c4da1" stroke-width="0.4"/><path d="M103.88 418.01L105.35 418.32L105.62 426.82L104.15 426.51Z" fill="#0c4c9e" stroke="#0c4c9e" stroke-width="0.4"/><path d="M105.35 418.32L106.94 418.67L107.21 427.16L105.62 426.82Z" fill="#0c4c9e" stroke="#0c4c9e" stroke-width="0.4"/><path d="M106.94 418.67L108.59 419.05L108.87 427.55L107.21 427.16Z" fill="#0c4c9e" stroke="#0c4c9e" stroke-width="0.4"/><path d="M108.59 419.05L110.27 419.48L110.54 427.97L108.87 427.55Z" fill="#0c4c9e" stroke="#0c4c9e" stroke-width="0.4"/><path d="M110.27 419.48L111.91 419.95L112.18 428.44L110.54 427.97Z" fill="#0c4c9e" stroke="#0c4c9e" stroke-width="0.4"/><path d="M111.91 419.95L113.47 420.47L113.74 428.96L112.18 428.44Z" fill="#0c4c9e" stroke="#0c4c9e" stroke-width="0.4"/><path d="M113.47 420.47L114.90 421.02L115.17 429.52L113.74 428.96Z" fill="#0c4c9e" stroke="#0c4c9e" stroke-width="0.4"/><path d="M114.90 421.02L116.15 421.62L116.43 430.12L115.17 429.52Z" fill="#0c4ea3" stroke="#0c4ea3" stroke-width="0.4"/><path d="M116.15 421.62L117.20 422.26L117.47 430.76L116.43 430.12Z" fill="#0d52a9" stroke="#0d52a9" stroke-width="0.4"/><path d="M117.20 422.26L118.00 422.93L118.28 431.42L117.47 430.76Z" fill="#0d56b0" stroke="#0d56b0" stroke-width="0.4"/><path d="M118.00 422.93L118.54 423.62L118.81 432.12L118.28 431.42Z" fill="#0e5ab8" stroke="#0e5ab8" stroke-width="0.4"/><path d="M118.54 423.62L118.79 424.33L119.07 432.83L118.81 432.12Z" fill="#0f5ec1" stroke="#0f5ec1" stroke-width="0.4"/><path d="M100.10 433.60L100.18 433.82L100.46 442.32L100.38 442.10Z" fill="#0f61c6" stroke="#0f61c6" stroke-width="0.4"/><path d="M100.18 433.82L100.55 434.04L100.83 442.54L100.46 442.32Z" fill="#0e5cbd" stroke="#0e5cbd" stroke-width="0.4"/><path d="M100.55 434.04L101.20 434.26L101.47 442.76L100.83 442.54Z" fill="#0e58b5" stroke="#0e58b5" stroke-width="0.4"/><path d="M101.20 434.26L102.10 434.50L102.37 443.00L101.47 442.76Z" fill="#0d54ad" stroke="#0d54ad" stroke-width="0.4"/><path d="M102.10 434.50L103.23 434.75L103.51 443.25L102.37 443.00Z" fill="#0d50a6" stroke="#0d50a6" stroke-width="0.4"/><path d="M103.23 434.75L104.56 435.03L104.84 443.53L103.51 443.25Z" fill="#0c4da0" stroke="#0c4da0" stroke-width="0.4"/><path d="M104.56 435.03L106.05 435.34L106.32 443.84L104.84 443.53Z" fill="#0c4c9e" stroke="#0c4c9e" stroke-width="0.4"/><path d="M106.05 435.34L107.65 435.69L107.92 444.19L106.32 443.84Z" fill="#0c4c9e" stroke="#0c4c9e" stroke-width="0.4"/><path d="M107.65 435.69L109.31 436.08L109.58 444.58L107.92 444.19Z" fill="#0c4c9e" stroke="#0c4c9e" stroke-width="0.4"/><path d="M109.31 436.08L110.98 436.51L111.25 445.01L109.58 444.58Z" fill="#0c4c9e" stroke="#0c4c9e" stroke-width="0.4"/><path d="M110.98 436.51L112.62 436.99L112.89 445.49L111.25 445.01Z" fill="#0c4c9e" stroke="#0c4c9e" stroke-width="0.4"/><path d="M112.62 436.99L114.16 437.51L114.44 446.01L112.89 445.49Z" fill="#0c4c9e" stroke="#0c4c9e" stroke-width="0.4"/><path d="M114.16 437.51L115.58 438.07L115.85 446.57L114.44 446.01Z" fill="#0c4c9e" stroke="#0c4c9e" stroke-width="0.4"/><path d="M115.58 438.07L116.82 438.68L117.09 447.17L115.85 446.57Z" fill="#0c4fa3" stroke="#0c4fa3" stroke-width="0.4"/><path d="M116.82 438.68L117.84 439.32L118.11 447.81L117.09 447.17Z" fill="#0d52aa" stroke="#0d52aa" stroke-width="0.4"/><path d="M117.84 439.32L118.62 439.99L118.89 448.48L118.11 447.81Z" fill="#0d56b1" stroke="#0d56b1" stroke-width="0.4"/><path d="M118.62 439.99L119.12 440.68L119.40 449.18L118.89 448.48Z" fill="#0e5ab9" stroke="#0e5ab9" stroke-width="0.4"/><path d="M119.12 440.68L119.35 441.40L119.62 449.89L119.40 449.18Z" fill="#0f5fc2" stroke="#0f5fc2" stroke-width="0.4"/>
<path d="M102.54 381.10L101.27 381.46L101.54 389.95L102.81 389.60Z" fill="#197be4" stroke="#197be4" stroke-width="0.4"/><path d="M101.27 381.46L100.20 381.78L100.47 390.27L101.54 389.95Z" fill="#1672da" stroke="#1672da" stroke-width="0.4"/><path d="M100.20 381.78L99.36 382.06L99.64 390.56L100.47 390.27Z" fill="#1269d0" stroke="#1269d0" stroke-width="0.4"/><path d="M99.36 382.06L98.79 382.32L99.06 390.82L99.64 390.56Z" fill="#0f62c8" stroke="#0f62c8" stroke-width="0.4"/><path d="M98.79 382.32L98.49 382.56L98.77 391.06L99.06 390.82Z" fill="#0f62c8" stroke="#0f62c8" stroke-width="0.4"/><path d="M98.49 382.56L98.49 382.78L98.76 391.28L98.77 391.06Z" fill="#0f62c8" stroke="#0f62c8" stroke-width="0.4"/><path d="M117.67 390.21L117.69 390.93L117.97 399.43L117.94 398.70Z" fill="#1776de" stroke="#1776de" stroke-width="0.4"/><path d="M117.69 390.93L117.43 391.66L117.70 400.15L117.97 399.43Z" fill="#1b7ee7" stroke="#1b7ee7" stroke-width="0.4"/><path d="M117.43 391.66L116.88 392.38L117.15 400.88L117.70 400.15Z" fill="#1e86f0" stroke="#1e86f0" stroke-width="0.4"/><path d="M116.88 392.38L116.07 393.10L116.34 401.60L117.15 400.88Z" fill="#1e86f0" stroke="#1e86f0" stroke-width="0.4"/><path d="M116.07 393.10L115.02 393.80L115.29 402.29L116.34 401.60Z" fill="#38a0f5" stroke="#38a0f5" stroke-width="0.4"/><path d="M115.02 393.80L113.77 394.47L114.04 402.97L115.29 402.29Z" fill="#4eb7f9" stroke="#4eb7f9" stroke-width="0.4"/><path d="M113.77 394.47L112.34 395.12L112.62 403.61L114.04 402.97Z" fill="#5ac3fb" stroke="#5ac3fb" stroke-width="0.4"/><path d="M112.34 395.12L110.80 395.72L111.07 404.22L112.62 403.61Z" fill="#5dc6fc" stroke="#5dc6fc" stroke-width="0.4"/><path d="M110.80 395.72L109.18 396.29L109.46 404.79L111.07 404.22Z" fill="#55befa" stroke="#55befa" stroke-width="0.4"/><path d="M109.18 396.29L107.54 396.82L107.81 405.31L109.46 404.79Z" fill="#44acf7" stroke="#44acf7" stroke-width="0.4"/><path d="M107.54 396.82L105.92 397.30L106.19 405.79L107.81 405.31Z" fill="#2991f2" stroke="#2991f2" stroke-width="0.4"/><path d="M105.92 397.30L104.37 397.74L104.65 406.23L106.19 405.79Z" fill="#1e86f0" stroke="#1e86f0" stroke-width="0.4"/><path d="M104.37 397.74L102.95 398.13L103.23 406.62L104.65 406.23Z" fill="#1c82eb" stroke="#1c82eb" stroke-width="0.4"/><path d="M102.95 398.13L101.70 398.48L101.97 406.98L103.23 406.62Z" fill="#197ae3" stroke="#197ae3" stroke-width="0.4"/><path d="M101.70 398.48L100.65 398.80L100.92 407.29L101.97 406.98Z" fill="#1672d9" stroke="#1672d9" stroke-width="0.4"/><path d="M100.65 398.80L99.84 399.08L100.11 407.58L100.92 407.29Z" fill="#1269cf" stroke="#1269cf" stroke-width="0.4"/><path d="M99.84 399.08L99.29 399.34L99.57 407.83L100.11 407.58Z" fill="#0f62c8" stroke="#0f62c8" stroke-width="0.4"/><path d="M99.29 399.34L99.03 399.57L99.30 408.07L99.57 407.83Z" fill="#0f62c8" stroke="#0f62c8" stroke-width="0.4"/><path d="M118.23 407.27L118.23 407.99L118.50 416.49L118.51 415.77Z" fill="#1877df" stroke="#1877df" stroke-width="0.4"/><path d="M118.23 407.99L117.93 408.72L118.21 417.22L118.50 416.49Z" fill="#1b7fe8" stroke="#1b7fe8" stroke-width="0.4"/><path d="M117.93 408.72L117.36 409.45L117.63 417.94L118.21 417.22Z" fill="#1e86f0" stroke="#1e86f0" stroke-width="0.4"/><path d="M117.36 409.45L116.52 410.16L116.80 418.66L117.63 417.94Z" fill="#1e86f0" stroke="#1e86f0" stroke-width="0.4"/><path d="M116.52 410.16L115.45 410.86L115.73 419.35L116.80 418.66Z" fill="#3ba3f5" stroke="#3ba3f5" stroke-width="0.4"/><path d="M115.45 410.86L114.18 411.53L114.45 420.02L115.73 419.35Z" fill="#50b8f9" stroke="#50b8f9" stroke-width="0.4"/><path d="M114.18 411.53L112.74 412.17L113.02 420.66L114.45 420.02Z" fill="#5bc4fb" stroke="#5bc4fb" stroke-width="0.4"/><path d="M112.74 412.17L111.19 412.77L111.46 421.27L113.02 420.66Z" fill="#5dc5fc" stroke="#5dc5fc" stroke-width="0.4"/><path d="M111.19 412.77L109.57 413.34L109.84 421.83L111.46 421.27Z" fill="#54bdfa" stroke="#54bdfa" stroke-width="0.4"/><path d="M109.57 413.34L107.92 413.86L108.20 422.35L109.84 421.83Z" fill="#42aaf7" stroke="#42aaf7" stroke-width="0.4"/><path d="M107.92 413.86L106.31 414.33L106.58 422.83L108.20 422.35Z" fill="#268ef1" stroke="#268ef1" stroke-width="0.4"/><path d="M106.31 414.33L104.77 414.77L105.05 423.26L106.58 422.83Z" fill="#1e86f0" stroke="#1e86f0" stroke-width="0.4"/><path d="M104.77 414.77L103.37 415.16L103.64 423.65L105.05 423.26Z" fill="#1c81eb" stroke="#1c81eb" stroke-width="0.4"/><path d="M103.37 415.16L102.13 415.51L102.41 424.00L103.64 423.65Z" fill="#1979e2" stroke="#1979e2" stroke-width="0.4"/><path d="M102.13 415.51L101.11 415.82L101.38 424.31L102.41 424.00Z" fill="#1571d8" stroke="#1571d8" stroke-width="0.4"/><path d="M101.11 415.82L100.32 416.10L100.60 424.59L101.38 424.31Z" fill="#1168ce" stroke="#1168ce" stroke-width="0.4"/><path d="M100.32 416.10L99.80 416.35L100.08 424.85L100.60 424.59Z" fill="#0f62c8" stroke="#0f62c8" stroke-width="0.4"/><path d="M99.80 416.35L99.56 416.59L99.84 425.08L100.08 424.85Z" fill="#0f62c8" stroke="#0f62c8" stroke-width="0.4"/><path d="M118.79 424.33L118.76 425.06L119.03 433.55L119.07 432.83Z" fill="#1878e0" stroke="#1878e0" stroke-width="0.4"/><path d="M118.76 425.06L118.43 425.79L118.71 434.28L119.03 433.55Z" fill="#1b80e9" stroke="#1b80e9" stroke-width="0.4"/><path d="M118.43 425.79L117.83 426.51L118.11 435.01L118.71 434.28Z" fill="#1e86f0" stroke="#1e86f0" stroke-width="0.4"/><path d="M117.83 426.51L116.97 427.22L117.25 435.72L118.11 435.01Z" fill="#2088f0" stroke="#2088f0" stroke-width="0.4"/><path d="M116.97 427.22L115.88 427.92L116.16 436.41L117.25 435.72Z" fill="#3da6f6" stroke="#3da6f6" stroke-width="0.4"/><path d="M115.88 427.92L114.59 428.58L114.87 437.08L116.16 436.41Z" fill="#51bafa" stroke="#51bafa" stroke-width="0.4"/><path d="M114.59 428.58L113.14 429.22L113.42 437.72L114.87 437.08Z" fill="#5cc5fb" stroke="#5cc5fb" stroke-width="0.4"/><path d="M113.14 429.22L111.58 429.82L111.85 438.32L113.42 437.72Z" fill="#5cc5fc" stroke="#5cc5fc" stroke-width="0.4"/><path d="M111.58 429.82L109.95 430.38L110.23 438.88L111.85 438.32Z" fill="#53bbfa" stroke="#53bbfa" stroke-width="0.4"/><path d="M109.95 430.38L108.31 430.90L108.58 439.39L110.23 438.88Z" fill="#3fa8f6" stroke="#3fa8f6" stroke-width="0.4"/><path d="M108.31 430.90L106.70 431.37L106.97 439.87L108.58 439.39Z" fill="#238bf1" stroke="#238bf1" stroke-width="0.4"/><path d="M106.70 431.37L105.18 431.80L105.45 440.29L106.97 439.87Z" fill="#1e86f0" stroke="#1e86f0" stroke-width="0.4"/><path d="M105.18 431.80L103.79 432.18L104.06 440.68L105.45 440.29Z" fill="#1c80ea" stroke="#1c80ea" stroke-width="0.4"/><path d="M103.79 432.18L102.57 432.53L102.84 441.03L104.06 440.68Z" fill="#1878e1" stroke="#1878e1" stroke-width="0.4"/><path d="M102.57 432.53L101.57 432.84L101.84 441.33L102.84 441.03Z" fill="#1570d7" stroke="#1570d7" stroke-width="0.4"/><path d="M101.57 432.84L100.81 433.12L101.08 441.61L101.84 441.33Z" fill="#1167cd" stroke="#1167cd" stroke-width="0.4"/><path d="M100.81 433.12L100.31 433.37L100.59 441.86L101.08 441.61Z" fill="#0f62c8" stroke="#0f62c8" stroke-width="0.4"/><path d="M100.31 433.37L100.10 433.60L100.38 442.10L100.59 441.86Z" fill="#0f62c8" stroke="#0f62c8" stroke-width="0.4"/>
<path d="M85 366C84 363 86 360.5 91 360.2C100 359.5 112 359.3 120 360.5C125.5 362 128.5 365 126.5 367C123 369.5 118 370.5 114.5 371" fill="none" stroke="#d9918c" stroke-width="2.2" stroke-linecap="round" stroke-linejoin="round"/>
<path d="M85 366C89 368 93.5 372 94.7 377C96 382 94 386 90.6 388" fill="none" stroke="#1670dc" stroke-width="2.2" stroke-linecap="round" stroke-linejoin="round"/>
<path d="M97 390C96 386 99 382 104 380.5C109 379.5 114 380 118 382" fill="none" stroke="#1670dc" stroke-width="2.6" stroke-linecap="round" stroke-linejoin="round"/>
<ellipse cx="82" cy="384.5" rx="8.6" ry="7.4" fill="#1258b8" stroke="#1b7ae2" stroke-width="3.2" transform="rotate(-28 82 384.5)"/>
<path d="M76 380C79 377 85 376 89 378" fill="none" stroke="#4aa6ff" stroke-width="1.2"/>
<path d="M60 394.2C63 393 67 392.4 69.7 392.6" fill="none" stroke="#1670dc" stroke-width="2.2" stroke-linecap="round" stroke-linejoin="round"/>
<ellipse cx="72.5" cy="397.5" rx="8.2" ry="6.6" fill="#1258b8" stroke="#1b7ae2" stroke-width="3.2" transform="rotate(-15 72.5 397.5)"/>
<defs><linearGradient id="gp" x1="0" y1="0" x2="1" y2="0"><stop offset="0" stop-color="#c27b76"/><stop offset="0.45" stop-color="#e49893"/><stop offset="0.7" stop-color="#efb3ae"/><stop offset="1" stop-color="#c8807b"/></linearGradient><linearGradient id="gb" x1="0" y1="0" x2="1" y2="0"><stop offset="0" stop-color="#0d5cc0"/><stop offset="0.5" stop-color="#1a7ee8"/><stop offset="0.75" stop-color="#2b8ff5"/><stop offset="1" stop-color="#0f5fc4"/></linearGradient><linearGradient id="gp2" x1="0" y1="0" x2="1" y2="0"><stop offset="0" stop-color="#c98682"/><stop offset="0.5" stop-color="#e7a29d"/><stop offset="1" stop-color="#c27b76"/></linearGradient></defs>
<path d="M58 409C63 405.5 72 405 79 407.5L79.5 410C72 408 64 408.5 58.5 411.5Z" fill="#9c5a55"/>
<path d="M56 428.5C61 425.5 70 425 76 427L76.5 430C70 428.5 62 429 56 431.5Z" fill="#0a3f8c"/>
<path d="M75 417.5L79.8 409.5C81.5 414 81 422 78.8 428.5L75.5 428.5C77 424 76.8 420.5 75 417.5Z" fill="#b06a65"/>
<path d="M58.1 409.3C64 407.6 72 407.4 79.2 408.1C80.2 412 79.6 416.5 75.4 420.2C69 421 63 421.6 58.1 422.2C57.4 418 57.4 413 58.1 409.3Z" fill="url(#gp)"/>
<path d="M70 408C72 412 72 417 70.5 421" fill="none" stroke="#f6cdca" stroke-width="1.6"/>
<path d="M55.6 428.6C62 428.2 69 428.3 75.2 429.2C77.5 432 77 436.5 73.2 439.3C67 439.6 61 439 55.8 437.6C55 434.5 55 431.5 55.6 428.6Z" fill="url(#gb)"/>
<path d="M68 428.5C69.5 432 69.5 435.5 68.5 439.3" fill="none" stroke="#49a8ff" stroke-width="1.4"/>
<path d="M72.2 437.5L76.5 436.5C78.5 440 78.5 443 77.2 446L74 446C74.8 443 74.2 440 72.2 437.5Z" fill="#0f5fc4"/>
<path d="M75.5 445C74.5 449 69 452.5 64 454.5C61 455.5 59.5 456.5 61 458.5C63.5 461.5 71 462 76.5 459.5C80 456 81.5 450.5 84 448.2C90 448.5 97 451.5 102.5 451.5C107 451 110 448 114 444.5" fill="none" stroke="#1670dc" stroke-width="2.3" stroke-linecap="round" stroke-linejoin="round"/>
<path d="M74 439C77 441 78 444 76.5 447C74 451 69 453 64.5 454.5L63 452.5C67.5 451 71.5 449 73.5 446C74.5 444 74.5 441.5 73 440Z" fill="#1670dc"/>
<path d="M100.5 452.5C95 455 92.5 461 94 466C96 471 101 473 106 471.5C102 469 100 465 100.5 460C101 457 102.5 454.5 104 453Z" fill="#1468d2"/>
<path d="M104 453C103 458 102.5 464 105.5 467C109 469.5 115 469 118.3 467.2C121 465 122 460 123.6 457.5C125 456 127 458.5 127.8 461" fill="none" stroke="#1670dc" stroke-width="2.2" stroke-linecap="round" stroke-linejoin="round"/>
<path d="M104 455C103.5 460 104 464 106 466.5" fill="none" stroke="#0b4aa0" stroke-width="1.0" stroke-linecap="round" stroke-linejoin="round"/>
<path d="M126.89 376.54L128.72 377.15L128.94 386.64L127.11 386.04Z" fill="#b97672" stroke="#b97672" stroke-width="0.4"/><path d="M128.72 377.15L130.37 377.80L130.59 387.30L128.94 386.64Z" fill="#ba7672" stroke="#ba7672" stroke-width="0.4"/><path d="M130.37 377.80L131.79 378.50L132.01 388.00L130.59 387.30Z" fill="#bc7874" stroke="#bc7874" stroke-width="0.4"/><path d="M131.79 378.50L132.94 379.24L133.16 388.74L132.01 388.00Z" fill="#bf7a76" stroke="#bf7a76" stroke-width="0.4"/><path d="M132.94 379.24L133.79 380.01L134.01 389.51L133.16 388.74Z" fill="#c37c78" stroke="#c37c78" stroke-width="0.4"/><path d="M133.79 380.01L134.30 380.81L134.52 390.31L134.01 389.51Z" fill="#c67e7a" stroke="#c67e7a" stroke-width="0.4"/><path d="M134.30 380.81L134.47 381.62L134.69 391.12L134.52 390.31Z" fill="#ca817c" stroke="#ca817c" stroke-width="0.4"/><path d="M111.69 391.37L111.93 391.58L112.15 401.07L111.91 400.86Z" fill="#c9807b" stroke="#c9807b" stroke-width="0.4"/><path d="M111.93 391.58L112.51 391.79L112.73 401.29L112.15 401.07Z" fill="#c67e79" stroke="#c67e79" stroke-width="0.4"/><path d="M112.51 391.79L113.42 392.02L113.64 401.51L112.73 401.29Z" fill="#c27c77" stroke="#c27c77" stroke-width="0.4"/><path d="M113.42 392.02L114.63 392.26L114.85 401.76L113.64 401.51Z" fill="#be7975" stroke="#be7975" stroke-width="0.4"/><path d="M114.63 392.26L116.10 392.54L116.32 402.03L114.85 401.76Z" fill="#bb7873" stroke="#bb7873" stroke-width="0.4"/><path d="M116.10 392.54L117.79 392.85L118.01 402.35L116.32 402.03Z" fill="#b97672" stroke="#b97672" stroke-width="0.4"/><path d="M117.79 392.85L119.65 393.20L119.87 402.70L118.01 402.35Z" fill="#b97672" stroke="#b97672" stroke-width="0.4"/><path d="M119.65 393.20L121.62 393.61L121.84 403.10L119.87 402.70Z" fill="#b97672" stroke="#b97672" stroke-width="0.4"/><path d="M121.62 393.61L123.64 394.06L123.86 403.56L121.84 403.10Z" fill="#b97672" stroke="#b97672" stroke-width="0.4"/><path d="M123.64 394.06L125.65 394.56L125.87 404.06L123.86 403.56Z" fill="#b97672" stroke="#b97672" stroke-width="0.4"/><path d="M125.65 394.56L127.59 395.12L127.81 404.62L125.87 404.06Z" fill="#b97672" stroke="#b97672" stroke-width="0.4"/><path d="M127.59 395.12L129.40 395.74L129.62 405.23L127.81 404.62Z" fill="#b97672" stroke="#b97672" stroke-width="0.4"/><path d="M129.40 395.74L131.02 396.40L131.24 405.89L129.62 405.23Z" fill="#ba7773" stroke="#ba7773" stroke-width="0.4"/><path d="M131.02 396.40L132.41 397.10L132.63 406.60L131.24 405.89Z" fill="#bd7874" stroke="#bd7874" stroke-width="0.4"/><path d="M132.41 397.10L133.52 397.85L133.74 407.34L132.63 406.60Z" fill="#c07a76" stroke="#c07a76" stroke-width="0.4"/><path d="M133.52 397.85L134.31 398.62L134.53 408.12L133.74 407.34Z" fill="#c37c78" stroke="#c37c78" stroke-width="0.4"/><path d="M134.31 398.62L134.78 399.42L135.00 408.92L134.53 408.12Z" fill="#c77f7a" stroke="#c77f7a" stroke-width="0.4"/><path d="M134.78 399.42L134.89 400.24L135.11 409.74L135.00 408.92Z" fill="#cb817c" stroke="#cb817c" stroke-width="0.4"/><path d="M112.13 409.89L112.42 410.10L112.64 419.60L112.35 419.39Z" fill="#c9807b" stroke="#c9807b" stroke-width="0.4"/><path d="M112.42 410.10L113.05 410.32L113.27 419.82L112.64 419.60Z" fill="#c57e79" stroke="#c57e79" stroke-width="0.4"/><path d="M113.05 410.32L114.01 410.55L114.23 420.04L113.27 419.82Z" fill="#c17b77" stroke="#c17b77" stroke-width="0.4"/><path d="M114.01 410.55L115.26 410.80L115.48 420.29L114.23 420.04Z" fill="#be7975" stroke="#be7975" stroke-width="0.4"/><path d="M115.26 410.80L116.77 411.08L116.99 420.57L115.48 420.29Z" fill="#bb7773" stroke="#bb7773" stroke-width="0.4"/><path d="M116.77 411.08L118.49 411.39L118.71 420.89L116.99 420.57Z" fill="#b97672" stroke="#b97672" stroke-width="0.4"/><path d="M118.49 411.39L120.37 411.75L120.59 421.25L118.71 420.89Z" fill="#b97672" stroke="#b97672" stroke-width="0.4"/><path d="M120.37 411.75L122.35 412.16L122.57 421.66L120.59 421.25Z" fill="#b97672" stroke="#b97672" stroke-width="0.4"/><path d="M122.35 412.16L124.37 412.63L124.59 422.12L122.57 421.66Z" fill="#b97672" stroke="#b97672" stroke-width="0.4"/><path d="M124.37 412.63L126.37 413.14L126.59 422.64L124.59 422.12Z" fill="#b97672" stroke="#b97672" stroke-width="0.4"/><path d="M126.37 413.14L128.30 413.71L128.52 423.20L126.59 422.64Z" fill="#b97672" stroke="#b97672" stroke-width="0.4"/><path d="M128.30 413.71L130.08 414.33L130.30 423.82L128.52 423.20Z" fill="#b97672" stroke="#b97672" stroke-width="0.4"/><path d="M130.08 414.33L131.67 414.99L131.89 424.49L130.30 423.82Z" fill="#ba7773" stroke="#ba7773" stroke-width="0.4"/><path d="M131.67 414.99L133.02 415.71L133.24 425.20L131.89 424.49Z" fill="#bd7974" stroke="#bd7974" stroke-width="0.4"/><path d="M133.02 415.71L134.08 416.45L134.30 425.95L133.24 425.20Z" fill="#c07b76" stroke="#c07b76" stroke-width="0.4"/><path d="M134.08 416.45L134.83 417.24L135.05 426.73L134.30 425.95Z" fill="#c47d78" stroke="#c47d78" stroke-width="0.4"/><path d="M134.83 417.24L135.24 418.04L135.46 427.54L135.05 426.73Z" fill="#c87f7a" stroke="#c87f7a" stroke-width="0.4"/><path d="M135.24 418.04L135.31 418.85L135.52 428.35L135.46 427.54Z" fill="#cc827d" stroke="#cc827d" stroke-width="0.4"/><path d="M112.58 428.42L112.92 428.63L113.14 438.13L112.80 437.92Z" fill="#c8807b" stroke="#c8807b" stroke-width="0.4"/><path d="M112.92 428.63L113.60 428.85L113.82 438.34L113.14 438.13Z" fill="#c47d79" stroke="#c47d79" stroke-width="0.4"/><path d="M113.60 428.85L114.60 429.08L114.82 438.57L113.82 438.34Z" fill="#c17b76" stroke="#c17b76" stroke-width="0.4"/><path d="M114.60 429.08L115.89 429.33L116.11 438.83L114.82 438.57Z" fill="#bd7975" stroke="#bd7975" stroke-width="0.4"/><path d="M115.89 429.33L117.44 429.62L117.66 439.11L116.11 438.83Z" fill="#bb7773" stroke="#bb7773" stroke-width="0.4"/><path d="M117.44 429.62L119.18 429.94L119.40 439.44L117.66 439.11Z" fill="#b97672" stroke="#b97672" stroke-width="0.4"/><path d="M119.18 429.94L121.08 430.31L121.30 439.80L119.40 439.44Z" fill="#b97672" stroke="#b97672" stroke-width="0.4"/><path d="M121.08 430.31L123.07 430.72L123.29 440.22L121.30 439.80Z" fill="#b97672" stroke="#b97672" stroke-width="0.4"/><path d="M123.07 430.72L125.10 431.19L125.32 440.69L123.29 440.22Z" fill="#b97672" stroke="#b97672" stroke-width="0.4"/><path d="M125.10 431.19L127.09 431.72L127.31 441.21L125.32 440.69Z" fill="#b97672" stroke="#b97672" stroke-width="0.4"/><path d="M127.09 431.72L129.00 432.29L129.22 441.79L127.31 441.21Z" fill="#b97672" stroke="#b97672" stroke-width="0.4"/><path d="M129.00 432.29L130.76 432.92L130.97 442.41L129.22 441.79Z" fill="#b97672" stroke="#b97672" stroke-width="0.4"/><path d="M130.76 432.92L132.31 433.59L132.53 443.09L130.97 442.41Z" fill="#bb7773" stroke="#bb7773" stroke-width="0.4"/><path d="M132.31 433.59L133.62 434.31L133.84 443.81L132.53 443.09Z" fill="#bd7975" stroke="#bd7975" stroke-width="0.4"/><path d="M133.62 434.31L134.64 435.06L134.86 444.56L133.84 443.81Z" fill="#c17b76" stroke="#c17b76" stroke-width="0.4"/><path d="M134.64 435.06L135.34 435.85L135.56 445.35L134.86 444.56Z" fill="#c47d79" stroke="#c47d79" stroke-width="0.4"/><path d="M135.34 435.85L135.70 436.65L135.92 446.15L135.56 445.35Z" fill="#c8807b" stroke="#c8807b" stroke-width="0.4"/>
<path d="M134.47 381.62L134.28 382.44L134.50 391.94L134.69 391.12Z" fill="#df9792" stroke="#df9792" stroke-width="0.4"/><path d="M134.28 382.44L133.75 383.26L133.97 392.76L134.50 391.94Z" fill="#e59d98" stroke="#e59d98" stroke-width="0.4"/><path d="M133.75 383.26L132.89 384.07L133.11 393.57L133.97 392.76Z" fill="#e8a09b" stroke="#e8a09b" stroke-width="0.4"/><path d="M132.89 384.07L131.73 384.86L131.94 394.35L133.11 393.57Z" fill="#ecaca8" stroke="#ecaca8" stroke-width="0.4"/><path d="M131.73 384.86L130.29 385.62L130.51 395.11L131.94 394.35Z" fill="#f2c3bf" stroke="#f2c3bf" stroke-width="0.4"/><path d="M130.29 385.62L128.64 386.34L128.86 395.84L130.51 395.11Z" fill="#f7d1ce" stroke="#f7d1ce" stroke-width="0.4"/><path d="M128.64 386.34L126.82 387.02L127.04 396.52L128.86 395.84Z" fill="#f8d7d4" stroke="#f8d7d4" stroke-width="0.4"/><path d="M126.82 387.02L124.88 387.65L125.10 397.15L127.04 396.52Z" fill="#f7d4d1" stroke="#f7d4d1" stroke-width="0.4"/><path d="M124.88 387.65L122.88 388.23L123.10 397.73L125.10 397.15Z" fill="#f4c8c5" stroke="#f4c8c5" stroke-width="0.4"/><path d="M122.88 388.23L120.89 388.76L121.11 398.26L123.10 397.73Z" fill="#eeb4b0" stroke="#eeb4b0" stroke-width="0.4"/><path d="M120.89 388.76L118.97 389.24L119.19 398.74L121.11 398.26Z" fill="#e8a09b" stroke="#e8a09b" stroke-width="0.4"/><path d="M118.97 389.24L117.17 389.66L117.39 399.16L119.19 398.74Z" fill="#e79f9a" stroke="#e79f9a" stroke-width="0.4"/><path d="M117.17 389.66L115.56 390.04L115.78 399.54L117.39 399.16Z" fill="#e19994" stroke="#e19994" stroke-width="0.4"/><path d="M115.56 390.04L114.18 390.37L114.40 399.87L115.78 399.54Z" fill="#db928d" stroke="#db928d" stroke-width="0.4"/><path d="M114.18 390.37L113.07 390.66L113.29 400.16L114.40 399.87Z" fill="#d48b86" stroke="#d48b86" stroke-width="0.4"/><path d="M113.07 390.66L112.28 390.92L112.49 400.41L113.29 400.16Z" fill="#cd837e" stroke="#cd837e" stroke-width="0.4"/><path d="M112.28 390.92L111.81 391.15L112.03 400.65L112.49 400.41Z" fill="#cc827d" stroke="#cc827d" stroke-width="0.4"/><path d="M111.81 391.15L111.69 391.37L111.91 400.86L112.03 400.65Z" fill="#cc827d" stroke="#cc827d" stroke-width="0.4"/><path d="M134.89 400.24L134.65 401.06L134.87 410.56L135.11 409.74Z" fill="#e09893" stroke="#e09893" stroke-width="0.4"/><path d="M134.65 401.06L134.07 401.88L134.29 411.37L134.87 410.56Z" fill="#e69e99" stroke="#e69e99" stroke-width="0.4"/><path d="M134.07 401.88L133.16 402.68L133.38 412.18L134.29 411.37Z" fill="#e8a09b" stroke="#e8a09b" stroke-width="0.4"/><path d="M133.16 402.68L131.96 403.47L132.18 412.96L133.38 412.18Z" fill="#edb0ac" stroke="#edb0ac" stroke-width="0.4"/><path d="M131.96 403.47L130.49 404.22L130.71 413.72L132.18 412.96Z" fill="#f3c5c2" stroke="#f3c5c2" stroke-width="0.4"/><path d="M130.49 404.22L128.81 404.94L129.03 414.43L130.71 413.72Z" fill="#f7d2cf" stroke="#f7d2cf" stroke-width="0.4"/><path d="M128.81 404.94L126.96 405.61L127.18 415.11L129.03 414.43Z" fill="#f8d7d4" stroke="#f8d7d4" stroke-width="0.4"/><path d="M126.96 405.61L125.01 406.24L125.23 415.73L127.18 415.11Z" fill="#f7d2cf" stroke="#f7d2cf" stroke-width="0.4"/><path d="M125.01 406.24L123.01 406.81L123.23 416.31L125.23 415.73Z" fill="#f3c5c2" stroke="#f3c5c2" stroke-width="0.4"/><path d="M123.01 406.81L121.03 407.33L121.25 416.83L123.23 416.31Z" fill="#edb0ac" stroke="#edb0ac" stroke-width="0.4"/><path d="M121.03 407.33L119.12 407.80L119.34 417.30L121.25 416.83Z" fill="#e8a09b" stroke="#e8a09b" stroke-width="0.4"/><path d="M119.12 407.80L117.35 408.22L117.57 417.71L119.34 417.30Z" fill="#e69e99" stroke="#e69e99" stroke-width="0.4"/><path d="M117.35 408.22L115.77 408.58L115.99 418.08L117.57 417.71Z" fill="#e09893" stroke="#e09893" stroke-width="0.4"/><path d="M115.77 408.58L114.42 408.91L114.64 418.41L115.99 418.08Z" fill="#da918c" stroke="#da918c" stroke-width="0.4"/><path d="M114.42 408.91L113.36 409.19L113.58 418.69L114.64 418.41Z" fill="#d38984" stroke="#d38984" stroke-width="0.4"/><path d="M113.36 409.19L112.61 409.45L112.83 418.94L113.58 418.69Z" fill="#cc827d" stroke="#cc827d" stroke-width="0.4"/><path d="M112.61 409.45L112.20 409.68L112.42 419.17L112.83 418.94Z" fill="#cc827d" stroke="#cc827d" stroke-width="0.4"/><path d="M112.20 409.68L112.13 409.89L112.35 419.39L112.42 419.17Z" fill="#cc827d" stroke="#cc827d" stroke-width="0.4"/><path d="M135.31 418.85L135.02 419.68L135.23 429.17L135.52 428.35Z" fill="#e19994" stroke="#e19994" stroke-width="0.4"/><path d="M135.02 419.68L134.38 420.49L134.60 429.99L135.23 429.17Z" fill="#e79f9a" stroke="#e79f9a" stroke-width="0.4"/><path d="M134.38 420.49L133.43 421.30L133.65 430.79L134.60 429.99Z" fill="#e8a09b" stroke="#e8a09b" stroke-width="0.4"/><path d="M133.43 421.30L132.18 422.07L132.40 431.57L133.65 430.79Z" fill="#eeb4b0" stroke="#eeb4b0" stroke-width="0.4"/><path d="M132.18 422.07L130.68 422.82L130.90 432.32L132.40 431.57Z" fill="#f4c8c4" stroke="#f4c8c4" stroke-width="0.4"/><path d="M130.68 422.82L128.97 423.53L129.19 433.03L130.90 432.32Z" fill="#f7d3d1" stroke="#f7d3d1" stroke-width="0.4"/><path d="M128.97 423.53L127.10 424.20L127.32 433.70L129.19 433.03Z" fill="#f8d7d4" stroke="#f8d7d4" stroke-width="0.4"/><path d="M127.10 424.20L125.14 424.82L125.36 434.32L127.32 433.70Z" fill="#f7d1ce" stroke="#f7d1ce" stroke-width="0.4"/><path d="M125.14 424.82L123.14 425.39L123.36 434.88L125.36 434.32Z" fill="#f2c3bf" stroke="#f2c3bf" stroke-width="0.4"/><path d="M123.14 425.39L121.17 425.90L121.39 435.40L123.36 434.88Z" fill="#ecada8" stroke="#ecada8" stroke-width="0.4"/><path d="M121.17 425.90L119.28 426.36L119.50 435.86L121.39 435.40Z" fill="#e8a09b" stroke="#e8a09b" stroke-width="0.4"/><path d="M119.28 426.36L117.53 426.77L117.75 436.27L119.50 435.86Z" fill="#e59d98" stroke="#e59d98" stroke-width="0.4"/><path d="M117.53 426.77L115.98 427.13L116.20 436.63L117.75 436.27Z" fill="#df9792" stroke="#df9792" stroke-width="0.4"/><path d="M115.98 427.13L114.68 427.45L114.89 436.95L116.20 436.63Z" fill="#d9908b" stroke="#d9908b" stroke-width="0.4"/><path d="M114.68 427.45L113.66 427.73L113.88 437.22L114.89 436.95Z" fill="#d28883" stroke="#d28883" stroke-width="0.4"/><path d="M113.66 427.73L112.96 427.98L113.17 437.47L113.88 437.22Z" fill="#cc827d" stroke="#cc827d" stroke-width="0.4"/><path d="M112.96 427.98L112.59 428.20L112.81 437.70L113.17 437.47Z" fill="#cc827d" stroke="#cc827d" stroke-width="0.4"/><path d="M112.59 428.20L112.58 428.42L112.80 437.92L112.81 437.70Z" fill="#cc827d" stroke="#cc827d" stroke-width="0.4"/><path d="M135.70 436.65L135.71 437.47L135.93 446.97L135.92 446.15Z" fill="#dc938e" stroke="#dc938e" stroke-width="0.4"/><path d="M135.71 437.47L135.37 438.29L135.59 447.79L135.93 446.97Z" fill="#e29a95" stroke="#e29a95" stroke-width="0.4"/><path d="M135.37 438.29L134.69 439.11L134.91 448.60L135.59 447.79Z" fill="#e8a09b" stroke="#e8a09b" stroke-width="0.4"/><path d="M134.69 439.11L133.69 439.91L133.91 449.40L134.91 448.60Z" fill="#e8a09b" stroke="#e8a09b" stroke-width="0.4"/><path d="M133.69 439.91L132.40 440.68L132.62 450.18L133.91 449.40Z" fill="#efb7b3" stroke="#efb7b3" stroke-width="0.4"/><path d="M132.40 440.68L130.87 441.43L131.08 450.92L132.62 450.18Z" fill="#f5cac7" stroke="#f5cac7" stroke-width="0.4"/><path d="M130.87 441.43L129.13 442.13L129.35 451.63L131.08 450.92Z" fill="#f8d4d2" stroke="#f8d4d2" stroke-width="0.4"/><path d="M129.13 442.13L127.25 442.79L127.47 452.29L129.35 451.63Z" fill="#f8d6d4" stroke="#f8d6d4" stroke-width="0.4"/><path d="M127.25 442.79L125.27 443.40L125.49 452.90L127.47 452.29Z" fill="#f6cfcc" stroke="#f6cfcc" stroke-width="0.4"/><path d="M125.27 443.40L123.27 443.96L123.49 453.46L125.49 452.90Z" fill="#f2c0bc" stroke="#f2c0bc" stroke-width="0.4"/><path d="M123.27 443.96L121.31 444.47L121.53 453.96L123.49 453.46Z" fill="#eba9a4" stroke="#eba9a4" stroke-width="0.4"/><path d="M121.31 444.47L119.43 444.92L119.65 454.42L121.53 453.96Z" fill="#e8a09b" stroke="#e8a09b" stroke-width="0.4"/>
<path d="M124 446C121 449 119.5 452 121 456" fill="none" stroke="#d9918c" stroke-width="2.4" stroke-linecap="round" stroke-linejoin="round"/>
<path d="M126.92 384.77L128.04 383.73L133.73 386.87L132.61 387.91Z" fill="#b97672" stroke="#b97672" stroke-width="0.4"/><path d="M128.04 383.73L129.15 382.78L134.84 385.92L133.73 386.87Z" fill="#b97672" stroke="#b97672" stroke-width="0.4"/><path d="M129.15 382.78L130.22 381.95L135.91 385.09L134.84 385.92Z" fill="#0c4c9f" stroke="#0c4c9f" stroke-width="0.4"/><path d="M130.22 381.95L131.23 381.29L136.92 384.43L135.91 385.09Z" fill="#0c4fa4" stroke="#0c4fa4" stroke-width="0.4"/><path d="M131.23 381.29L132.16 380.81L137.85 383.95L136.92 384.43Z" fill="#0d53ab" stroke="#0d53ab" stroke-width="0.4"/><path d="M132.16 380.81L132.99 380.54L138.68 383.68L137.85 383.95Z" fill="#0d57b3" stroke="#0d57b3" stroke-width="0.4"/><path d="M132.99 380.54L133.71 380.49L139.40 383.63L138.68 383.68Z" fill="#0e5bbb" stroke="#0e5bbb" stroke-width="0.4"/><path d="M133.71 380.49L134.31 380.67L140.01 383.81L139.40 383.63Z" fill="#0f60c4" stroke="#0f60c4" stroke-width="0.4"/><path d="M132.94 399.32L133.25 399.28L138.95 402.42L138.63 402.46Z" fill="#c9807b" stroke="#c9807b" stroke-width="0.4"/><path d="M133.25 399.28L133.70 399.01L139.39 402.15L138.95 402.42Z" fill="#c57e79" stroke="#c57e79" stroke-width="0.4"/><path d="M133.70 399.01L134.28 398.54L139.97 401.68L139.39 402.15Z" fill="#c17b77" stroke="#c17b77" stroke-width="0.4"/><path d="M134.28 398.54L134.98 397.88L140.67 401.02L139.97 401.68Z" fill="#be7975" stroke="#be7975" stroke-width="0.4"/><path d="M134.98 397.88L135.79 397.06L141.48 400.20L140.67 401.02Z" fill="#bb7773" stroke="#bb7773" stroke-width="0.4"/><path d="M135.79 397.06L136.70 396.11L142.39 399.25L141.48 400.20Z" fill="#b97672" stroke="#b97672" stroke-width="0.4"/><path d="M136.70 396.11L137.70 395.07L143.39 398.21L142.39 399.25Z" fill="#b97672" stroke="#b97672" stroke-width="0.4"/><path d="M137.70 395.07L138.76 393.98L144.45 397.12L143.39 398.21Z" fill="#b97672" stroke="#b97672" stroke-width="0.4"/><path d="M138.76 393.98L139.86 392.87L145.55 396.01L144.45 397.12Z" fill="#b97672" stroke="#b97672" stroke-width="0.4"/><path d="M139.86 392.87L140.98 391.80L146.67 394.94L145.55 396.01Z" fill="#b97672" stroke="#b97672" stroke-width="0.4"/><path d="M140.98 391.80L142.10 390.79L147.79 393.93L146.67 394.94Z" fill="#b97672" stroke="#b97672" stroke-width="0.4"/><path d="M142.10 390.79L143.19 389.89L148.88 393.03L147.79 393.93Z" fill="#b97672" stroke="#b97672" stroke-width="0.4"/><path d="M143.19 389.89L144.24 389.13L149.93 392.27L148.88 393.03Z" fill="#0c4da1" stroke="#0c4da1" stroke-width="0.4"/><path d="M144.24 389.13L145.21 388.54L150.90 391.68L149.93 392.27Z" fill="#0d51a7" stroke="#0d51a7" stroke-width="0.4"/><path d="M145.21 388.54L146.10 388.15L151.79 391.29L150.90 391.68Z" fill="#0d54ae" stroke="#0d54ae" stroke-width="0.4"/><path d="M146.10 388.15L146.89 387.98L152.58 391.12L151.79 391.29Z" fill="#0e59b6" stroke="#0e59b6" stroke-width="0.4"/><path d="M146.89 387.98L147.56 388.03L153.25 391.17L152.58 391.12Z" fill="#0e5dbf" stroke="#0e5dbf" stroke-width="0.4"/><path d="M147.56 388.03L148.11 388.31L153.80 391.45L153.25 391.17Z" fill="#0f62c7" stroke="#0f62c7" stroke-width="0.4"/><path d="M146.39 406.73L146.63 406.82L152.32 409.96L152.08 409.87Z" fill="#cb827d" stroke="#cb827d" stroke-width="0.4"/><path d="M146.63 406.82L147.00 406.68L152.70 409.82L152.32 409.96Z" fill="#c77f7a" stroke="#c77f7a" stroke-width="0.4"/><path d="M147.00 406.68L147.51 406.32L153.20 409.46L152.70 409.82Z" fill="#c47d78" stroke="#c47d78" stroke-width="0.4"/><path d="M147.51 406.32L148.14 405.76L153.83 408.90L153.20 409.46Z" fill="#c07a76" stroke="#c07a76" stroke-width="0.4"/><path d="M148.14 405.76L148.89 405.03L154.58 408.17L153.83 408.90Z" fill="#bd7874" stroke="#bd7874" stroke-width="0.4"/><path d="M148.89 405.03L149.75 404.15L155.44 407.29L154.58 408.17Z" fill="#ba7773" stroke="#ba7773" stroke-width="0.4"/><path d="M149.75 404.15L150.70 403.16L156.39 406.30L155.44 407.29Z" fill="#b97672" stroke="#b97672" stroke-width="0.4"/><path d="M150.70 403.16L151.72 402.09L157.41 405.23L156.39 406.30Z" fill="#b97672" stroke="#b97672" stroke-width="0.4"/><path d="M151.72 402.09L152.80 400.99L158.49 404.13L157.41 405.23Z" fill="#b97672" stroke="#b97672" stroke-width="0.4"/><path d="M152.80 400.99L153.91 399.89L159.60 403.03L158.49 404.13Z" fill="#b97672" stroke="#b97672" stroke-width="0.4"/><path d="M153.91 399.89L155.04 398.84L160.73 401.98L159.60 403.03Z" fill="#b97672" stroke="#b97672" stroke-width="0.4"/><path d="M155.04 398.84L156.15 397.87L161.84 401.01L160.73 401.98Z" fill="#b97672" stroke="#b97672" stroke-width="0.4"/><path d="M156.15 397.87L157.22 397.03L162.91 400.17L161.84 401.01Z" fill="#b97672" stroke="#b97672" stroke-width="0.4"/><path d="M157.22 397.03L158.24 396.34L163.93 399.48L162.91 400.17Z" fill="#bb7873" stroke="#bb7873" stroke-width="0.4"/><path d="M158.24 396.34L159.18 395.84L164.87 398.98L163.93 399.48Z" fill="#be7975" stroke="#be7975" stroke-width="0.4"/>
<path d="M134.31 380.67L134.79 381.09L140.48 384.23L140.01 383.81Z" fill="#197ae3" stroke="#197ae3" stroke-width="0.4"/><path d="M134.79 381.09L135.13 381.73L140.82 384.87L140.48 384.23Z" fill="#1c82ec" stroke="#1c82ec" stroke-width="0.4"/><path d="M135.13 381.73L135.34 382.58L141.04 385.72L140.82 384.87Z" fill="#1e86f0" stroke="#1e86f0" stroke-width="0.4"/><path d="M135.34 382.58L135.43 383.62L141.13 386.76L141.04 385.72Z" fill="#2b93f2" stroke="#2b93f2" stroke-width="0.4"/><path d="M135.43 383.62L135.41 384.83L141.10 387.97L141.13 386.76Z" fill="#45aef7" stroke="#45aef7" stroke-width="0.4"/><path d="M135.41 384.83L135.28 386.17L140.97 389.31L141.10 387.97Z" fill="#56bffa" stroke="#56bffa" stroke-width="0.4"/><path d="M135.28 386.17L135.07 387.62L140.76 390.76L140.97 389.31Z" fill="#f8d7d4" stroke="#f8d7d4" stroke-width="0.4"/><path d="M135.07 387.62L134.78 389.12L140.47 392.26L140.76 390.76Z" fill="#f7d4d1" stroke="#f7d4d1" stroke-width="0.4"/><path d="M134.78 389.12L134.45 390.65L140.14 393.79L140.47 392.26Z" fill="#f4c8c5" stroke="#f4c8c5" stroke-width="0.4"/><path d="M134.45 390.65L134.10 392.16L139.79 395.30L140.14 393.79Z" fill="#eeb4b0" stroke="#eeb4b0" stroke-width="0.4"/><path d="M134.10 392.16L133.74 393.60L139.43 396.74L139.79 395.30Z" fill="#e8a09b" stroke="#e8a09b" stroke-width="0.4"/><path d="M133.74 393.60L133.40 394.95L139.09 398.09L139.43 396.74Z" fill="#e79f9a" stroke="#e79f9a" stroke-width="0.4"/><path d="M133.40 394.95L133.11 396.16L138.80 399.30L139.09 398.09Z" fill="#e19994" stroke="#e19994" stroke-width="0.4"/><path d="M133.11 396.16L132.88 397.21L138.57 400.35L138.80 399.30Z" fill="#db928d" stroke="#db928d" stroke-width="0.4"/><path d="M132.88 397.21L132.73 398.07L138.42 401.21L138.57 400.35Z" fill="#d48a85" stroke="#d48a85" stroke-width="0.4"/><path d="M132.73 398.07L132.68 398.71L138.37 401.85L138.42 401.21Z" fill="#cc837e" stroke="#cc837e" stroke-width="0.4"/><path d="M132.68 398.71L132.75 399.13L138.44 402.27L138.37 401.85Z" fill="#cc827d" stroke="#cc827d" stroke-width="0.4"/><path d="M132.75 399.13L132.94 399.32L138.63 402.46L138.44 402.27Z" fill="#cc827d" stroke="#cc827d" stroke-width="0.4"/><path d="M148.11 388.31L148.52 388.82L154.22 391.96L153.80 391.45Z" fill="#1b7ee7" stroke="#1b7ee7" stroke-width="0.4"/><path d="M148.52 388.82L148.81 389.56L154.50 392.70L154.22 391.96Z" fill="#1e85ef" stroke="#1e85ef" stroke-width="0.4"/><path d="M148.81 389.56L148.97 390.49L154.66 393.63L154.50 392.70Z" fill="#1e86f0" stroke="#1e86f0" stroke-width="0.4"/><path d="M148.97 390.49L149.01 391.61L154.70 394.75L154.66 393.63Z" fill="#37a0f5" stroke="#37a0f5" stroke-width="0.4"/><path d="M149.01 391.61L148.94 392.89L154.63 396.03L154.70 394.75Z" fill="#4eb6f9" stroke="#4eb6f9" stroke-width="0.4"/><path d="M148.94 392.89L148.77 394.28L154.46 397.42L154.63 396.03Z" fill="#f8d4d1" stroke="#f8d4d1" stroke-width="0.4"/><path d="M148.77 394.28L148.52 395.75L154.21 398.89L154.46 397.42Z" fill="#f8d6d4" stroke="#f8d6d4" stroke-width="0.4"/><path d="M148.52 395.75L148.22 397.27L153.91 400.41L154.21 398.89Z" fill="#f6d0cd" stroke="#f6d0cd" stroke-width="0.4"/><path d="M148.22 397.27L147.87 398.80L153.56 401.94L153.91 400.41Z" fill="#f2c0bd" stroke="#f2c0bd" stroke-width="0.4"/><path d="M147.87 398.80L147.51 400.28L153.20 403.42L153.56 401.94Z" fill="#eba9a4" stroke="#eba9a4" stroke-width="0.4"/><path d="M147.51 400.28L147.16 401.69L152.85 404.83L153.20 403.42Z" fill="#e8a09b" stroke="#e8a09b" stroke-width="0.4"/><path d="M147.16 401.69L146.84 402.98L152.53 406.12L152.85 404.83Z" fill="#e59c97" stroke="#e59c97" stroke-width="0.4"/><path d="M146.84 402.98L146.57 404.13L152.26 407.27L152.53 406.12Z" fill="#de9691" stroke="#de9691" stroke-width="0.4"/><path d="M146.57 404.13L146.37 405.10L152.06 408.24L152.26 407.27Z" fill="#d88f8a" stroke="#d88f8a" stroke-width="0.4"/><path d="M146.37 405.10L146.27 405.86L151.96 409.00L152.06 408.24Z" fill="#d18782" stroke="#d18782" stroke-width="0.4"/><path d="M146.27 405.86L146.27 406.41L151.96 409.55L151.96 409.00Z" fill="#cc827d" stroke="#cc827d" stroke-width="0.4"/><path d="M146.27 406.41L146.39 406.73L152.08 409.87L151.96 409.55Z" fill="#cc827d" stroke="#cc827d" stroke-width="0.4"/>
<path d="M154 405C157 408 159.5 411 162 413" fill="none" stroke="#d9918c" stroke-width="2.4" stroke-linecap="round" stroke-linejoin="round"/>
<path d="M128.8 381.2L133.6 376.4L140.6 382.6L137 386.6Z" fill="#1a72dc"/><path d="M128.8 381.2L137 386.6L136 388L128.5 383Z" fill="#d98e89"/>
<path d="M161.5 413C163 407 165.5 401.5 169.5 399.3C171.5 398.6 170.5 401.5 168.5 403.5C166.2 406.5 165.2 410.5 165.7 414.5C166.5 419 170 421.7 175 421.4C180 421 184 418.6 188 417.3L194 415.4" fill="none" stroke="#1670dc" stroke-width="2.3" stroke-linecap="round" stroke-linejoin="round"/>
<path d="M180.8 411L183.3 418.5" fill="none" stroke="#1670dc" stroke-width="2" stroke-linecap="round" stroke-linejoin="round"/>
<path d="M193.5 411.4L200 427" fill="none" stroke="#1670dc" stroke-width="2.4" stroke-linecap="round" stroke-linejoin="round"/>
<path d="M71 392C75 390 79 393 80 398C80 402 79 405 77 405C75 401 73 396 71 392Z" fill="#e8141a"/>
<g stroke="#e8141a" stroke-width="1.9" stroke-linecap="round" fill="none"><path d="M83 387.3V398.2M79.4 387.3H87.4M83.4 397.5L90.6 396.6M86.6 397.4L89.8 403"/><path d="M114.7 370.6L99.2 389.6M113.3 370.6L111.9 365M104.2 373.4L109.1 378.3M109.1 376.2L110.1 384.6M102 384L104.5 387M113 370L116.5 368"/></g>
<g font-family="Liberation Sans, sans-serif" font-size="10" font-weight="bold" fill="#111"><text x="44.7" y="354.7">H3</text><text x="36.6" y="427">H4</text><text x="148.6" y="386.7">H6</text><text x="140.3" y="442.4">H1</text></g>
<g font-family="Liberation Sans, sans-serif" font-size="10" fill="#e8141a"><text x="56.8" y="366">V383</text><text x="130.9" y="359.1">N352</text></g>
<g font-family="Liberation Sans, sans-serif" fill="#111"><text x="188.0" y="406.1" font-size="9.7">COO-</text><text x="121.0" y="478.0" font-size="10.2">NH3+</text></g>
<text x="189.0" y="335.6" font-family="Liberation Sans, sans-serif" font-size="19.8" fill="#111">C</text>
<path d="M347.5 354.60h1.6M347.5 360.30h1.6M347.5 366.00h1.6M347.5 371.70h1.6M347.5 377.40h1.6M347.5 383.10h1.6M347.5 388.80h1.6M347.5 394.50h1.6M347.5 400.20h1.6M347.5 405.90h1.6M347.5 411.60h1.6M347.5 417.30h1.6M347.5 423.00h1.6M347.5 428.70h1.6M347.5 434.40h1.6M347.5 440.10h1.6M347.5 445.80h1.6M347.5 451.50h1.6M347.5 457.20h1.6M347.5 462.90h1.6M347.5 468.60h1.6M347.5 474.30h1.6M347.5 480.00h1.6M219.05 482.2v1.2M223.20 482.2v1.2M227.35 482.2v1.2M231.50 482.2v2.0M235.65 482.2v1.2M239.80 482.2v1.2M243.95 482.2v1.2M248.10 482.2v2.0M252.25 482.2v1.2M256.40 482.2v1.2M260.55 482.2v1.2M264.70 482.2v2.0M268.85 482.2v1.2M273.00 482.2v1.2M277.15 482.2v1.2M281.30 482.2v2.0M285.45 482.2v1.2M289.60 482.2v1.2M293.75 482.2v1.2M297.90 482.2v2.0M302.05 482.2v1.2M306.20 482.2v1.2M310.35 482.2v1.2M314.50 482.2v2.0M318.65 482.2v1.2M322.80 482.2v1.2M326.95 482.2v1.2M331.10 482.2v2.0M335.25 482.2v1.2M339.40 482.2v1.2M343.55 482.2v1.2" stroke="#444" stroke-width="0.7" fill="none"/>
<rect x="215.5" y="353.5" width="132.0" height="128.7" fill="none" stroke="#555" stroke-width="1"/>
<g font-family="Liberation Sans, sans-serif" font-size="9.5" fill="#222" text-anchor="middle">
<text x="232.30" y="494.4">8.0</text>
<text x="265.50" y="494.4">7.6</text>
<text x="298.70" y="494.4">7.2</text>
</g>
<text x="350.00" y="494.6" font-family="Liberation Sans, sans-serif" font-size="9.5" fill="#222" text-anchor="end">F2 [ppm]</text>
<g font-family="Liberation Sans, sans-serif" font-size="9.5" fill="#222" text-anchor="middle">
<text transform="translate(358.90,395.4) rotate(-90)">111</text>
<text transform="translate(358.90,422.8) rotate(-90)">112</text>
<text transform="translate(358.90,450.8) rotate(-90)">113</text>
</g>
<text x="345.70" y="364" font-family="Liberation Sans, sans-serif" font-size="9.5" fill="#222" text-anchor="end">day 0</text>
<path d="M247.00 364.30C251.13 368.86 251.13 373.14 247.00 377.70C242.87 373.14 242.87 368.86 247.00 364.30Z" fill="#0000ff"/><path d="M247.00 367.99C248.45 370.04 248.45 371.96 247.00 374.01C245.55 371.96 245.55 370.04 247.00 367.99Z" fill="none" stroke="#6a6aff" stroke-width="0.5"/>
<ellipse cx="255.9" cy="377" rx="0.8" ry="0.5" fill="#3a3aff"/>
<path d="M286.50 380.80C290.10 385.56 290.10 390.04 286.50 394.80C282.90 390.04 282.90 385.56 286.50 380.80Z" fill="#0000ff"/><path d="M286.50 383.04C288.30 386.28 288.30 389.32 286.50 392.56C284.70 389.32 284.70 386.28 286.50 383.04Z" fill="#fff" fill-opacity="0.9"/><path d="M286.50 385.00C287.29 386.90 287.29 388.70 286.50 390.60C285.71 388.70 285.71 386.90 286.50 385.00Z" fill="#0000ff" fill-opacity="0.8"/>
<path d="M294.60 387.70C299.53 391.44 299.53 394.96 294.60 398.70C289.67 394.96 289.67 391.44 294.60 387.70Z" fill="#0000ff"/><path d="M294.60 390.72C296.33 392.41 296.33 393.99 294.60 395.68C292.87 393.99 292.87 392.41 294.60 390.72Z" fill="none" stroke="#6a6aff" stroke-width="0.5"/>
<path d="M315.00 387.70C319.13 391.44 319.13 394.96 315.00 398.70C310.87 394.96 310.87 391.44 315.00 387.70Z" fill="#0000ff"/><path d="M315.00 390.72C316.45 392.41 316.45 393.99 315.00 395.68C313.55 393.99 313.55 392.41 315.00 390.72Z" fill="none" stroke="#6a6aff" stroke-width="0.5"/>
<path d="M273.00 418.30C277.00 422.04 277.00 425.56 273.00 429.30C269.00 425.56 269.00 422.04 273.00 418.30Z" fill="#0000ff"/><path d="M273.00 420.06C275.00 422.60 275.00 425.00 273.00 427.54C271.00 425.00 271.00 422.60 273.00 420.06Z" fill="#fff" fill-opacity="0.9"/><path d="M273.00 421.60C273.88 423.10 273.88 424.50 273.00 426.00C272.12 424.50 272.12 423.10 273.00 421.60Z" fill="#0000ff" fill-opacity="0.8"/>
<path d="M277.40 423.50C279.00 424.86 279.00 426.14 277.40 427.50C275.80 426.14 275.80 424.86 277.40 423.50Z" fill="#0000ff"/><path d="M277.40 424.40C278.01 425.15 278.01 425.85 277.40 426.60C276.79 425.85 276.79 425.15 277.40 424.40Z" fill="#fff" fill-opacity="0.85"/>
<path d="M278.30 427.80C281.77 431.13 281.77 434.27 278.30 437.60C274.83 434.27 274.83 431.13 278.30 427.80Z" fill="#0000ff"/><path d="M278.30 430.50C279.51 431.99 279.51 433.41 278.30 434.90C277.09 433.41 277.09 431.99 278.30 430.50Z" fill="none" stroke="#6a6aff" stroke-width="0.5"/>
<path d="M331.80 427.30C335.80 431.04 335.80 434.56 331.80 438.30C327.80 434.56 327.80 431.04 331.80 427.30Z" fill="#0000ff"/><path d="M331.80 430.32C333.20 432.01 333.20 433.59 331.80 435.28C330.40 433.59 330.40 432.01 331.80 430.32Z" fill="none" stroke="#6a6aff" stroke-width="0.5"/>
<path d="M259.60 444.10C262.93 447.23 262.93 450.17 259.60 453.30C256.27 450.17 256.27 447.23 259.60 444.10Z" fill="#0000ff"/><path d="M259.60 446.17C260.87 447.89 260.87 449.51 259.60 451.23C258.33 449.51 258.33 447.89 259.60 446.17Z" fill="#fff" fill-opacity="0.85"/>
<path d="M337.10 443.80C340.17 447.00 340.17 450.00 337.10 453.20C334.03 450.00 334.03 447.00 337.10 443.80Z" fill="#0000ff"/><path d="M337.10 445.92C338.27 447.67 338.27 449.33 337.10 451.08C335.93 449.33 335.93 447.67 337.10 445.92Z" fill="#fff" fill-opacity="0.85"/>
<path d="M222.00 453.90C226.00 457.30 226.00 460.50 222.00 463.90C218.00 460.50 218.00 457.30 222.00 453.90Z" fill="#0000ff"/><path d="M222.00 455.50C224.00 457.81 224.00 459.99 222.00 462.30C220.00 459.99 220.00 457.81 222.00 455.50Z" fill="#fff" fill-opacity="0.9"/><path d="M222.00 456.90C222.88 458.26 222.88 459.54 222.00 460.90C221.12 459.54 221.12 458.26 222.00 456.90Z" fill="#0000ff" fill-opacity="0.8"/>
<path d="M252.00 462.00C256.00 466.42 256.00 470.58 252.00 475.00C248.00 470.58 248.00 466.42 252.00 462.00Z" fill="#0000ff"/><path d="M252.00 464.08C254.00 467.09 254.00 469.91 252.00 472.92C250.00 469.91 250.00 467.09 252.00 464.08Z" fill="#fff" fill-opacity="0.9"/><path d="M252.00 465.90C252.88 467.67 252.88 469.33 252.00 471.10C251.12 469.33 251.12 467.67 252.00 465.90Z" fill="#0000ff" fill-opacity="0.8"/>
<path d="M258.50 462.50C262.50 466.92 262.50 471.08 258.50 475.50C254.50 471.08 254.50 466.92 258.50 462.50Z" fill="#0000ff"/><path d="M258.50 464.58C260.50 467.59 260.50 470.41 258.50 473.42C256.50 470.41 256.50 467.59 258.50 464.58Z" fill="#fff" fill-opacity="0.9"/><path d="M258.50 466.40C259.38 468.17 259.38 469.83 258.50 471.60C257.62 469.83 257.62 468.17 258.50 466.40Z" fill="#0000ff" fill-opacity="0.8"/>
<path d="M276.80 459.00C280.93 462.40 280.93 465.60 276.80 469.00C272.67 465.60 272.67 462.40 276.80 459.00Z" fill="#0000ff"/><path d="M276.80 461.75C278.25 463.28 278.25 464.72 276.80 466.25C275.35 464.72 275.35 463.28 276.80 461.75Z" fill="none" stroke="#6a6aff" stroke-width="0.5"/>
<path d="M321.20 458.20C325.20 461.80 325.20 465.20 321.20 468.80C317.20 465.20 317.20 461.80 321.20 458.20Z" fill="#0000ff"/><path d="M321.20 461.12C322.60 462.74 322.60 464.26 321.20 465.88C319.80 464.26 319.80 462.74 321.20 461.12Z" fill="none" stroke="#6a6aff" stroke-width="0.5"/>
<line x1="268.80" y1="449.7" x2="327.50" y2="449.7" stroke="#111" stroke-width="0.9"/>
<path d="M264.8 449.7l6 -1.8v3.6z" fill="#111"/>
<path d="M331.5 449.7l-6 -1.8v3.6z" fill="#111"/>
<text x="297.3" y="447.7" font-family="Liberation Sans, sans-serif" font-size="9.5" fill="#222" text-anchor="middle">N352</text>
<text x="226" y="362.3" font-family="Liberation Sans, sans-serif" font-size="9.5" fill="#222">T377 (N)</text>
<path d="M512.3 354.60h1.6M512.3 360.30h1.6M512.3 366.00h1.6M512.3 371.70h1.6M512.3 377.40h1.6M512.3 383.10h1.6M512.3 388.80h1.6M512.3 394.50h1.6M512.3 400.20h1.6M512.3 405.90h1.6M512.3 411.60h1.6M512.3 417.30h1.6M512.3 423.00h1.6M512.3 428.70h1.6M512.3 434.40h1.6M512.3 440.10h1.6M512.3 445.80h1.6M512.3 451.50h1.6M512.3 457.20h1.6M512.3 462.90h1.6M512.3 468.60h1.6M512.3 474.30h1.6M512.3 480.00h1.6M383.45 482.2v1.2M387.60 482.2v1.2M391.75 482.2v1.2M395.90 482.2v2.0M400.05 482.2v1.2M404.20 482.2v1.2M408.35 482.2v1.2M412.50 482.2v2.0M416.65 482.2v1.2M420.80 482.2v1.2M424.95 482.2v1.2M429.10 482.2v2.0M433.25 482.2v1.2M437.40 482.2v1.2M441.55 482.2v1.2M445.70 482.2v2.0M449.85 482.2v1.2M454.00 482.2v1.2M458.15 482.2v1.2M462.30 482.2v2.0M466.45 482.2v1.2M470.60 482.2v1.2M474.75 482.2v1.2M478.90 482.2v2.0M483.05 482.2v1.2M487.20 482.2v1.2M491.35 482.2v1.2M495.50 482.2v2.0M499.65 482.2v1.2M503.80 482.2v1.2M507.95 482.2v1.2M512.10 482.2v2.0" stroke="#444" stroke-width="0.7" fill="none"/>
<rect x="380.9" y="353.5" width="131.39999999999998" height="128.7" fill="none" stroke="#555" stroke-width="1"/>
<g font-family="Liberation Sans, sans-serif" font-size="9.5" fill="#222" text-anchor="middle">
<text x="396.70" y="494.4">8.0</text>
<text x="429.90" y="494.4">7.6</text>
<text x="463.10" y="494.4">7.2</text>
</g>
<text x="514.80" y="494.6" font-family="Liberation Sans, sans-serif" font-size="9.5" fill="#222" text-anchor="end">F2 [ppm]</text>
<g font-family="Liberation Sans, sans-serif" font-size="9.5" fill="#222" text-anchor="middle">
<text transform="translate(525.20,395.4) rotate(-90)">111</text>
<text transform="translate(525.20,422.8) rotate(-90)">112</text>
<text transform="translate(525.20,450.8) rotate(-90)">113</text>
</g>
<text x="510.50" y="364" font-family="Liberation Sans, sans-serif" font-size="9.5" fill="#222" text-anchor="end">day 6</text>
<path d="M411.20 365.80C414.40 369.61 414.40 373.19 411.20 377.00C408.00 373.19 408.00 369.61 411.20 365.80Z" fill="#0000ff"/><path d="M411.20 368.32C412.42 370.41 412.42 372.39 411.20 374.48C409.98 372.39 409.98 370.41 411.20 368.32Z" fill="#fff" fill-opacity="0.85"/>
<path d="M415.50 374.20C417.63 376.92 417.63 379.48 415.50 382.20C413.37 379.48 413.37 376.92 415.50 374.20Z" fill="#0000ff"/><path d="M415.50 376.00C416.31 377.50 416.31 378.90 415.50 380.40C414.69 378.90 414.69 377.50 415.50 376.00Z" fill="#fff" fill-opacity="0.85"/>
<path d="M420.00 371.00C422.40 373.92 422.40 376.68 420.00 379.60C417.60 376.68 417.60 373.92 420.00 371.00Z" fill="#0000ff"/><path d="M420.00 372.94C420.91 374.54 420.91 376.06 420.00 377.67C419.09 376.06 419.09 374.54 420.00 372.94Z" fill="#fff" fill-opacity="0.85"/>
<path d="M451.00 379.20C453.93 384.16 453.93 388.84 451.00 393.80C448.07 388.84 448.07 384.16 451.00 379.20Z" fill="#0000ff"/><path d="M451.00 381.54C452.47 384.91 452.47 388.09 451.00 391.46C449.53 388.09 449.53 384.91 451.00 381.54Z" fill="#fff" fill-opacity="0.9"/><path d="M451.00 383.58C451.65 385.57 451.65 387.43 451.00 389.42C450.35 387.43 450.35 385.57 451.00 383.58Z" fill="#0000ff" fill-opacity="0.8"/>
<path d="M459.40 389.00C463.40 392.74 463.40 396.26 459.40 400.00C455.40 396.26 455.40 392.74 459.40 389.00Z" fill="#0000ff" transform="rotate(25 459.4 394.5)"/><path d="M459.40 390.76C461.40 393.30 461.40 395.70 459.40 398.24C457.40 395.70 457.40 393.30 459.40 390.76Z" fill="#fff" fill-opacity="0.9" transform="rotate(25 459.4 394.5)"/><path d="M459.40 392.30C460.28 393.80 460.28 395.20 459.40 396.70C458.52 395.20 458.52 393.80 459.40 392.30Z" fill="#0000ff" fill-opacity="0.8" transform="rotate(25 459.4 394.5)"/>
<path d="M480.40 388.90C484.53 392.91 484.53 396.69 480.40 400.70C476.27 396.69 476.27 392.91 480.40 388.90Z" fill="#0000ff"/><path d="M480.40 392.15C481.85 393.95 481.85 395.65 480.40 397.45C478.95 395.65 478.95 393.95 480.40 392.15Z" fill="none" stroke="#6a6aff" stroke-width="0.5"/>
<path d="M438.50 419.50C442.50 422.90 442.50 426.10 438.50 429.50C434.50 426.10 434.50 422.90 438.50 419.50Z" fill="#0000ff" transform="rotate(-10 438.5 424.5)"/><path d="M438.50 421.10C440.50 423.41 440.50 425.59 438.50 427.90C436.50 425.59 436.50 423.41 438.50 421.10Z" fill="#fff" fill-opacity="0.9" transform="rotate(-10 438.5 424.5)"/><path d="M438.50 422.50C439.38 423.86 439.38 425.14 438.50 426.50C437.62 425.14 437.62 423.86 438.50 422.50Z" fill="#0000ff" fill-opacity="0.8" transform="rotate(-10 438.5 424.5)"/>
<path d="M443.60 428.30C447.33 431.63 447.33 434.77 443.60 438.10C439.87 434.77 439.87 431.63 443.60 428.30Z" fill="#0000ff"/><path d="M443.60 431.00C444.91 432.49 444.91 433.91 443.60 435.40C442.29 433.91 442.29 432.49 443.60 431.00Z" fill="none" stroke="#6a6aff" stroke-width="0.5"/>
<path d="M496.90 427.00C501.30 430.54 501.30 433.86 496.90 437.40C492.50 433.86 492.50 430.54 496.90 427.00Z" fill="#0000ff"/><path d="M496.90 429.86C498.44 431.45 498.44 432.95 496.90 434.54C495.36 432.95 495.36 431.45 496.90 429.86Z" fill="none" stroke="#6a6aff" stroke-width="0.5"/>
<path d="M425.00 446.30C427.53 448.61 427.53 450.79 425.00 453.10C422.47 450.79 422.47 448.61 425.00 446.30Z" fill="#0000ff"/><path d="M425.00 447.83C425.96 449.10 425.96 450.30 425.00 451.57C424.04 450.30 424.04 449.10 425.00 447.83Z" fill="#fff" fill-opacity="0.85"/>
<path d="M502.30 445.80C504.97 448.45 504.97 450.95 502.30 453.60C499.63 450.95 499.63 448.45 502.30 445.80Z" fill="#0000ff"/><path d="M502.30 447.56C503.31 449.01 503.31 450.39 502.30 451.84C501.29 450.39 501.29 449.01 502.30 447.56Z" fill="#fff" fill-opacity="0.85"/>
<path d="M387.50 453.50C391.77 456.90 391.77 460.10 387.50 463.50C383.23 460.10 383.23 456.90 387.50 453.50Z" fill="#0000ff"/><path d="M387.50 455.10C389.63 457.41 389.63 459.59 387.50 461.90C385.37 459.59 385.37 457.41 387.50 455.10Z" fill="#fff" fill-opacity="0.9"/><path d="M387.50 456.50C388.44 457.86 388.44 459.14 387.50 460.50C386.56 459.14 386.56 457.86 387.50 456.50Z" fill="#0000ff" fill-opacity="0.8"/>
<ellipse cx="419.1" cy="469.5" rx="5.2" ry="6.6" fill="#0000ff"/><ellipse cx="419.1" cy="469.5" rx="3.74" ry="4.75" fill="none" stroke="#fff" stroke-width="0.75" stroke-opacity="0.85"/><ellipse cx="419.1" cy="469.5" rx="2.34" ry="2.97" fill="none" stroke="#fff" stroke-width="0.75" stroke-opacity="0.85"/><ellipse cx="419.1" cy="469.5" rx="0.94" ry="1.32" fill="#fff" fill-opacity="0.8"/>
<path d="M386.60 461.70C387.80 463.60 387.80 465.40 386.60 467.30C385.40 465.40 385.40 463.60 386.60 461.70Z" fill="#0000ff"/><path d="M386.60 462.96C387.06 464.01 387.06 464.99 386.60 466.04C386.14 464.99 386.14 464.01 386.60 462.96Z" fill="#fff" fill-opacity="0.85"/>
<path d="M442.00 458.70C446.13 462.37 446.13 465.83 442.00 469.50C437.87 465.83 437.87 462.37 442.00 458.70Z" fill="#0000ff"/><path d="M442.00 461.67C443.45 463.32 443.45 464.88 442.00 466.53C440.55 464.88 440.55 463.32 442.00 461.67Z" fill="none" stroke="#6a6aff" stroke-width="0.5"/>
<path d="M486.50 458.70C490.50 462.37 490.50 465.83 486.50 469.50C482.50 465.83 482.50 462.37 486.50 458.70Z" fill="#0000ff"/><path d="M486.50 461.67C487.90 463.32 487.90 464.88 486.50 466.53C485.10 464.88 485.10 463.32 486.50 461.67Z" fill="none" stroke="#6a6aff" stroke-width="0.5"/>
<line x1="434.30" y1="449.8" x2="494.00" y2="449.8" stroke="#111" stroke-width="0.9"/>
<path d="M430.3 449.8l6 -1.8v3.6z" fill="#111"/>
<path d="M498 449.8l-6 -1.8v3.6z" fill="#111"/>
<text x="462.4" y="448.2" font-family="Liberation Sans, sans-serif" font-size="9.5" fill="#222" text-anchor="middle">N352</text>
<g font-family="Liberation Sans, sans-serif" font-size="9.5" fill="#222"><text x="390" y="364.3">T377 (N)</text><text x="423.6" y="375.5">T377 (D)</text><text x="388.2" y="391.2">T377 (iD)</text></g>
<path d="M673.3 354.60h1.6M673.3 360.30h1.6M673.3 366.00h1.6M673.3 371.70h1.6M673.3 377.40h1.6M673.3 383.10h1.6M673.3 388.80h1.6M673.3 394.50h1.6M673.3 400.20h1.6M673.3 405.90h1.6M673.3 411.60h1.6M673.3 417.30h1.6M673.3 423.00h1.6M673.3 428.70h1.6M673.3 434.40h1.6M673.3 440.10h1.6M673.3 445.80h1.6M673.3 451.50h1.6M673.3 457.20h1.6M673.3 462.90h1.6M673.3 468.60h1.6M673.3 474.30h1.6M673.3 480.00h1.6M544.75 482v1.2M548.90 482v1.2M553.05 482v1.2M557.20 482v2.0M561.35 482v1.2M565.50 482v1.2M569.65 482v1.2M573.80 482v2.0M577.95 482v1.2M582.10 482v1.2M586.25 482v1.2M590.40 482v2.0M594.55 482v1.2M598.70 482v1.2M602.85 482v1.2M607.00 482v2.0M611.15 482v1.2M615.30 482v1.2M619.45 482v1.2M623.60 482v2.0M627.75 482v1.2M631.90 482v1.2M636.05 482v1.2M640.20 482v2.0M644.35 482v1.2M648.50 482v1.2M652.65 482v1.2M656.80 482v2.0M660.95 482v1.2M665.10 482v1.2M669.25 482v1.2" stroke="#444" stroke-width="0.7" fill="none"/>
<rect x="541.0" y="353.5" width="132.29999999999995" height="128.5" fill="none" stroke="#555" stroke-width="1"/>
<g font-family="Liberation Sans, sans-serif" font-size="9.5" fill="#222" text-anchor="middle">
<text x="558.00" y="494.4">8.0</text>
<text x="591.20" y="494.4">7.6</text>
<text x="624.40" y="494.4">7.2</text>
</g>
<text x="675.80" y="494.6" font-family="Liberation Sans, sans-serif" font-size="9.5" fill="#222" text-anchor="end">F2 [ppm]</text>
<g font-family="Liberation Sans, sans-serif" font-size="9.5" fill="#222" text-anchor="middle">
<text transform="translate(685.40,395.4) rotate(-90)">111</text>
<text transform="translate(685.40,422.8) rotate(-90)">112</text>
<text transform="translate(685.40,450.8) rotate(-90)">113</text>
</g>
<text x="671.50" y="364" font-family="Liberation Sans, sans-serif" font-size="9.5" fill="#222" text-anchor="end">day 19</text>
<path d="M571.50 369.70C572.97 371.47 572.97 373.13 571.50 374.90C570.03 373.13 570.03 371.47 571.50 369.70Z" fill="#0000ff"/><path d="M571.50 370.87C572.06 371.84 572.06 372.76 571.50 373.73C570.94 372.76 570.94 371.84 571.50 370.87Z" fill="#fff" fill-opacity="0.85"/>
<path d="M576.00 373.70C578.80 376.83 578.80 379.77 576.00 382.90C573.20 379.77 573.20 376.83 576.00 373.70Z" fill="#0000ff"/><path d="M576.00 375.77C577.06 377.49 577.06 379.11 576.00 380.83C574.94 379.11 574.94 377.49 576.00 375.77Z" fill="#fff" fill-opacity="0.85"/>
<path d="M580.20 371.00C583.00 373.92 583.00 376.68 580.20 379.60C577.40 376.68 577.40 373.92 580.20 371.00Z" fill="#0000ff"/><path d="M580.20 372.94C581.26 374.54 581.26 376.06 580.20 377.67C579.14 376.06 579.14 374.54 580.20 372.94Z" fill="#fff" fill-opacity="0.85"/>
<path d="M611.30 379.60C614.37 384.50 614.37 389.10 611.30 394.00C608.23 389.10 608.23 384.50 611.30 379.60Z" fill="#0000ff"/><path d="M611.30 381.90C612.83 385.23 612.83 388.37 611.30 391.70C609.77 388.37 609.77 385.23 611.30 381.90Z" fill="#fff" fill-opacity="0.9"/><path d="M611.30 383.92C611.97 385.88 611.97 387.72 611.30 389.68C610.63 387.72 610.63 385.88 611.30 383.92Z" fill="#0000ff" fill-opacity="0.8"/>
<path d="M619.50 391.20C623.90 394.74 623.90 398.06 619.50 401.60C615.10 398.06 615.10 394.74 619.50 391.20Z" fill="#0000ff" transform="rotate(25 619.5 396.4)"/><path d="M619.50 392.86C621.70 395.27 621.70 397.53 619.50 399.94C617.30 397.53 617.30 395.27 619.50 392.86Z" fill="#fff" fill-opacity="0.9" transform="rotate(25 619.5 396.4)"/><path d="M619.50 394.32C620.47 395.73 620.47 397.07 619.50 398.48C618.53 397.07 618.53 395.73 619.50 394.32Z" fill="#0000ff" fill-opacity="0.8" transform="rotate(25 619.5 396.4)"/>
<path d="M641.50 390.80C645.23 394.61 645.23 398.19 641.50 402.00C637.77 398.19 637.77 394.61 641.50 390.80Z" fill="#0000ff"/><path d="M641.50 393.88C642.81 395.59 642.81 397.21 641.50 398.92C640.19 397.21 640.19 395.59 641.50 393.88Z" fill="none" stroke="#6a6aff" stroke-width="0.5"/>
<path d="M599.50 419.70C603.77 423.30 603.77 426.70 599.50 430.30C595.23 426.70 595.23 423.30 599.50 419.70Z" fill="#0000ff"/><path d="M599.50 421.40C601.63 423.85 601.63 426.15 599.50 428.60C597.37 426.15 597.37 423.85 599.50 421.40Z" fill="#fff" fill-opacity="0.9"/><path d="M599.50 422.88C600.44 424.32 600.44 425.68 599.50 427.12C598.56 425.68 598.56 424.32 599.50 422.88Z" fill="#0000ff" fill-opacity="0.8"/>
<path d="M603.20 422.50C605.20 424.54 605.20 426.46 603.20 428.50C601.20 426.46 601.20 424.54 603.20 422.50Z" fill="#0000ff"/><path d="M603.20 423.85C603.96 424.97 603.96 426.03 603.20 427.15C602.44 426.03 602.44 424.97 603.20 423.85Z" fill="#fff" fill-opacity="0.85"/>
<path d="M604.00 427.60C607.87 431.07 607.87 434.33 604.00 437.80C600.13 434.33 600.13 431.07 604.00 427.60Z" fill="#0000ff"/><path d="M604.00 430.40C605.35 431.97 605.35 433.43 604.00 435.00C602.65 433.43 602.65 431.97 604.00 430.40Z" fill="none" stroke="#6a6aff" stroke-width="0.5"/>
<path d="M658.00 425.40C661.60 429.14 661.60 432.66 658.00 436.40C654.40 432.66 654.40 429.14 658.00 425.40Z" fill="#0000ff"/><path d="M658.00 428.42C659.26 430.11 659.26 431.69 658.00 433.38C656.74 431.69 656.74 430.11 658.00 428.42Z" fill="none" stroke="#6a6aff" stroke-width="0.5"/>
<path d="M548.00 453.00C551.87 456.40 551.87 459.60 548.00 463.00C544.13 459.60 544.13 456.40 548.00 453.00Z" fill="#0000ff"/><path d="M548.00 454.60C549.93 456.91 549.93 459.09 548.00 461.40C546.07 459.09 546.07 456.91 548.00 454.60Z" fill="#fff" fill-opacity="0.9"/><path d="M548.00 456.00C548.85 457.36 548.85 458.64 548.00 460.00C547.15 458.64 547.15 457.36 548.00 456.00Z" fill="#0000ff" fill-opacity="0.8"/>
<ellipse cx="579.9" cy="470.8" rx="5" ry="7" fill="#0000ff"/><ellipse cx="579.9" cy="470.8" rx="3.60" ry="5.04" fill="none" stroke="#fff" stroke-width="0.75" stroke-opacity="0.85"/><ellipse cx="579.9" cy="470.8" rx="2.25" ry="3.15" fill="none" stroke="#fff" stroke-width="0.75" stroke-opacity="0.85"/><ellipse cx="579.9" cy="470.8" rx="0.90" ry="1.40" fill="#fff" fill-opacity="0.8"/>
<path d="M547.40 460.90C548.47 462.67 548.47 464.33 547.40 466.10C546.33 464.33 546.33 462.67 547.40 460.90Z" fill="#0000ff"/><path d="M547.40 462.07C547.81 463.04 547.81 463.96 547.40 464.93C546.99 463.96 546.99 463.04 547.40 462.07Z" fill="#fff" fill-opacity="0.85"/>
<path d="M602.70 458.30C606.70 461.90 606.70 465.30 602.70 468.90C598.70 465.30 598.70 461.90 602.70 458.30Z" fill="#0000ff"/><path d="M602.70 461.22C604.10 462.84 604.10 464.36 602.70 465.99C601.30 464.36 601.30 462.84 602.70 461.22Z" fill="none" stroke="#6a6aff" stroke-width="0.5"/>
<path d="M647.70 458.30C651.57 461.90 651.57 465.30 647.70 468.90C643.83 465.30 643.83 461.90 647.70 458.30Z" fill="#0000ff"/><path d="M647.70 461.22C649.05 462.84 649.05 464.36 647.70 465.99C646.35 464.36 646.35 462.84 647.70 461.22Z" fill="none" stroke="#6a6aff" stroke-width="0.5"/>
<line x1="600.10" y1="449.8" x2="659.90" y2="449.8" stroke="#111" stroke-width="0.9"/>
<path d="M596.1 449.8l6 -1.8v3.6z" fill="#111"/>
<path d="M663.9 449.8l-6 -1.8v3.6z" fill="#111"/>
<text x="629" y="448.1" font-family="Liberation Sans, sans-serif" font-size="9.5" fill="#222" text-anchor="middle">N352</text>
<g font-family="Liberation Sans, sans-serif" font-size="9.5" fill="#222"><text x="542" y="362.7">T377 (N)</text><text x="580.3" y="372.2">T377 (D)</text><text x="545.5" y="391.2">T377 (iD)</text></g>
</svg>
</body></html>
